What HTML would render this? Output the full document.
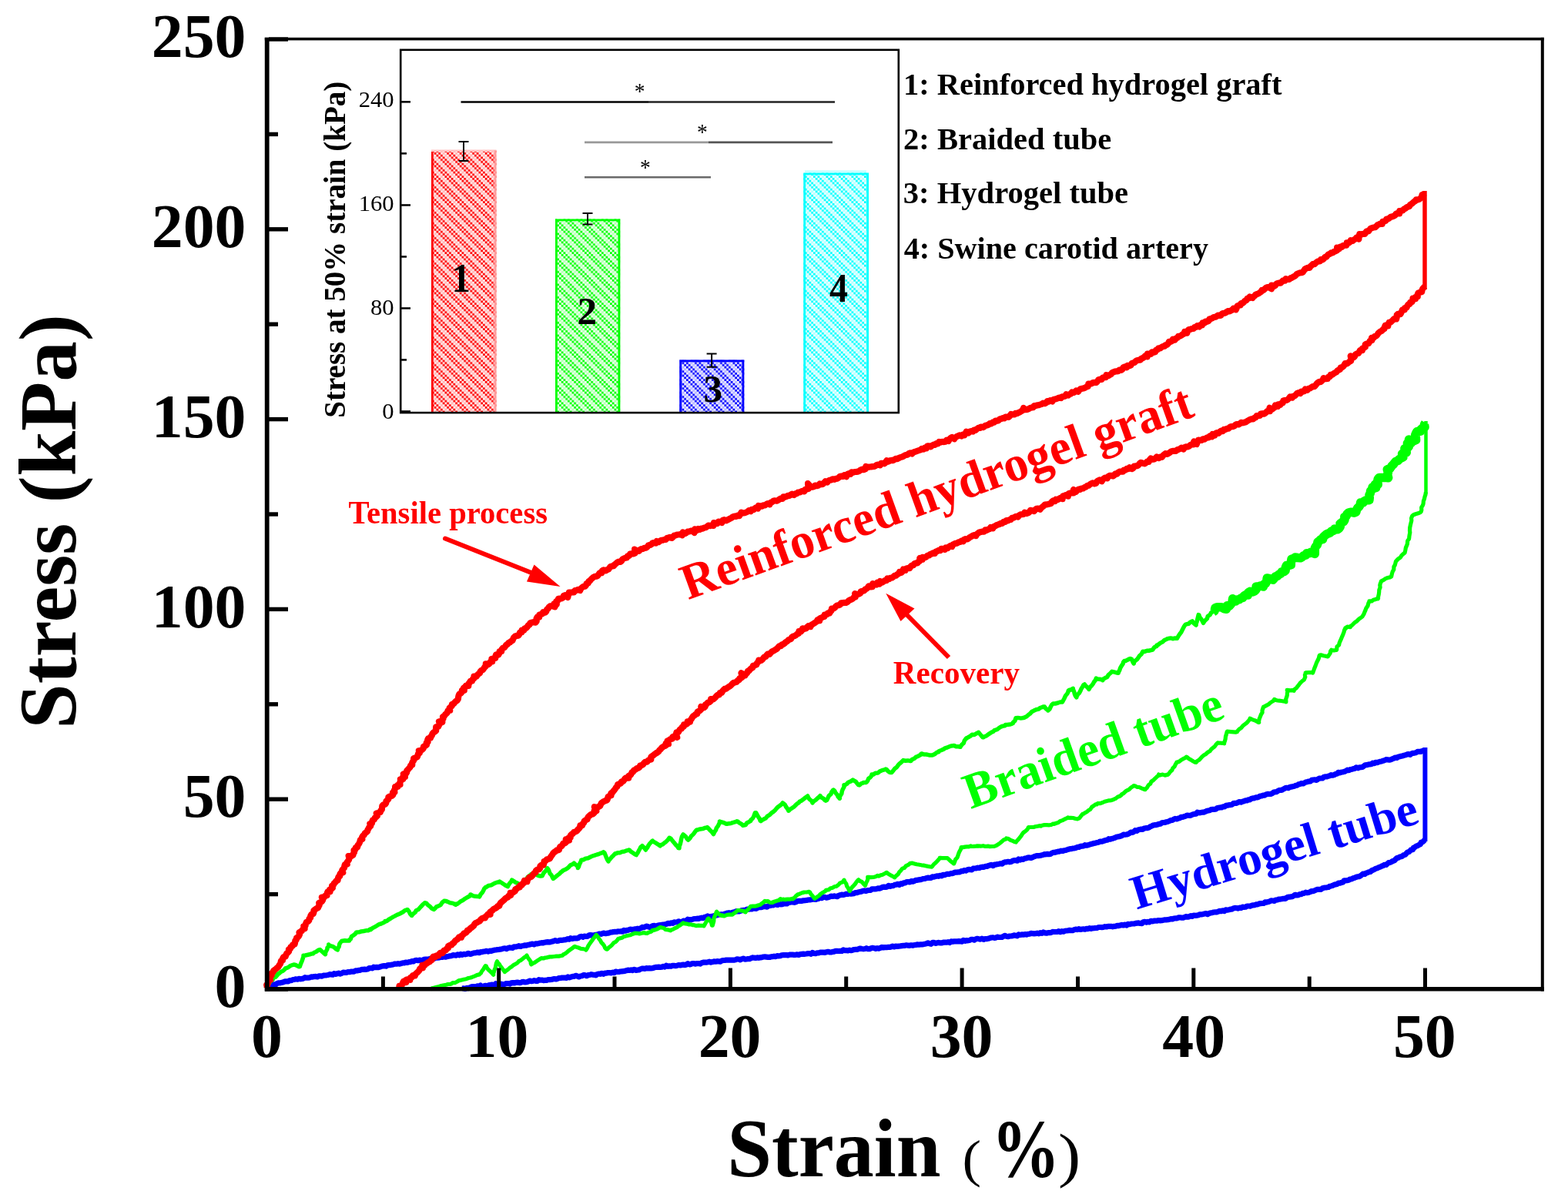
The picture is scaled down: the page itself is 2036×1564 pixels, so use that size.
<!DOCTYPE html>
<html><head><meta charset="utf-8"><title>Stress-strain</title>
<style>
html,body{margin:0;padding:0;background:#fff;width:2036px;height:1564px;overflow:hidden;}
svg{display:block;}
text{font-family:"Liberation Serif","Times New Roman",serif;}
</style></head>
<body>
<svg width="2036" height="1564" viewBox="0 0 2036 1564">
<defs><pattern id="hr" patternUnits="userSpaceOnUse" width="16.50" height="16.50"><rect width="16.50" height="16.50" fill="#fff0f0"/><rect x="0.00" y="2.75" width="2.75" height="2.75" fill="#ffb2b2"/><rect x="0.00" y="8.25" width="2.75" height="2.75" fill="#ff0000"/><rect x="0.00" y="13.75" width="2.75" height="2.75" fill="#ff0000"/><rect x="2.75" y="0.00" width="2.75" height="2.75" fill="#ff0000"/><rect x="2.75" y="5.50" width="2.75" height="2.75" fill="#ffb2b2"/><rect x="2.75" y="11.00" width="2.75" height="2.75" fill="#ff0000"/><rect x="5.50" y="2.75" width="2.75" height="2.75" fill="#ff0000"/><rect x="5.50" y="8.25" width="2.75" height="2.75" fill="#ffb2b2"/><rect x="5.50" y="13.75" width="2.75" height="2.75" fill="#ff0000"/><rect x="8.25" y="0.00" width="2.75" height="2.75" fill="#ff0000"/><rect x="8.25" y="5.50" width="2.75" height="2.75" fill="#ff0000"/><rect x="8.25" y="11.00" width="2.75" height="2.75" fill="#ffb2b2"/><rect x="11.00" y="2.75" width="2.75" height="2.75" fill="#ff0000"/><rect x="11.00" y="8.25" width="2.75" height="2.75" fill="#ff0000"/><rect x="11.00" y="13.75" width="2.75" height="2.75" fill="#ffb2b2"/><rect x="13.75" y="0.00" width="2.75" height="2.75" fill="#ffb2b2"/><rect x="13.75" y="5.50" width="2.75" height="2.75" fill="#ff0000"/><rect x="13.75" y="11.00" width="2.75" height="2.75" fill="#ff0000"/></pattern><pattern id="hg" patternUnits="userSpaceOnUse" width="16.50" height="16.50"><rect width="16.50" height="16.50" fill="#f0fff0"/><rect x="0.00" y="2.75" width="2.75" height="2.75" fill="#b2ffb2"/><rect x="0.00" y="8.25" width="2.75" height="2.75" fill="#00ff00"/><rect x="0.00" y="13.75" width="2.75" height="2.75" fill="#00ff00"/><rect x="2.75" y="0.00" width="2.75" height="2.75" fill="#00ff00"/><rect x="2.75" y="5.50" width="2.75" height="2.75" fill="#b2ffb2"/><rect x="2.75" y="11.00" width="2.75" height="2.75" fill="#00ff00"/><rect x="5.50" y="2.75" width="2.75" height="2.75" fill="#00ff00"/><rect x="5.50" y="8.25" width="2.75" height="2.75" fill="#b2ffb2"/><rect x="5.50" y="13.75" width="2.75" height="2.75" fill="#00ff00"/><rect x="8.25" y="0.00" width="2.75" height="2.75" fill="#00ff00"/><rect x="8.25" y="5.50" width="2.75" height="2.75" fill="#00ff00"/><rect x="8.25" y="11.00" width="2.75" height="2.75" fill="#b2ffb2"/><rect x="11.00" y="2.75" width="2.75" height="2.75" fill="#00ff00"/><rect x="11.00" y="8.25" width="2.75" height="2.75" fill="#00ff00"/><rect x="11.00" y="13.75" width="2.75" height="2.75" fill="#b2ffb2"/><rect x="13.75" y="0.00" width="2.75" height="2.75" fill="#b2ffb2"/><rect x="13.75" y="5.50" width="2.75" height="2.75" fill="#00ff00"/><rect x="13.75" y="11.00" width="2.75" height="2.75" fill="#00ff00"/></pattern><pattern id="hb" patternUnits="userSpaceOnUse" width="16.50" height="16.50"><rect width="16.50" height="16.50" fill="#f0f0ff"/><rect x="0.00" y="2.75" width="2.75" height="2.75" fill="#b2b2ff"/><rect x="0.00" y="8.25" width="2.75" height="2.75" fill="#0000ff"/><rect x="0.00" y="13.75" width="2.75" height="2.75" fill="#0000ff"/><rect x="2.75" y="0.00" width="2.75" height="2.75" fill="#0000ff"/><rect x="2.75" y="5.50" width="2.75" height="2.75" fill="#b2b2ff"/><rect x="2.75" y="11.00" width="2.75" height="2.75" fill="#0000ff"/><rect x="5.50" y="2.75" width="2.75" height="2.75" fill="#0000ff"/><rect x="5.50" y="8.25" width="2.75" height="2.75" fill="#b2b2ff"/><rect x="5.50" y="13.75" width="2.75" height="2.75" fill="#0000ff"/><rect x="8.25" y="0.00" width="2.75" height="2.75" fill="#0000ff"/><rect x="8.25" y="5.50" width="2.75" height="2.75" fill="#0000ff"/><rect x="8.25" y="11.00" width="2.75" height="2.75" fill="#b2b2ff"/><rect x="11.00" y="2.75" width="2.75" height="2.75" fill="#0000ff"/><rect x="11.00" y="8.25" width="2.75" height="2.75" fill="#0000ff"/><rect x="11.00" y="13.75" width="2.75" height="2.75" fill="#b2b2ff"/><rect x="13.75" y="0.00" width="2.75" height="2.75" fill="#b2b2ff"/><rect x="13.75" y="5.50" width="2.75" height="2.75" fill="#0000ff"/><rect x="13.75" y="11.00" width="2.75" height="2.75" fill="#0000ff"/></pattern><pattern id="hc" patternUnits="userSpaceOnUse" width="16.50" height="16.50"><rect width="16.50" height="16.50" fill="#f0ffff"/><rect x="0.00" y="2.75" width="2.75" height="2.75" fill="#b2ffff"/><rect x="0.00" y="8.25" width="2.75" height="2.75" fill="#00ffff"/><rect x="0.00" y="13.75" width="2.75" height="2.75" fill="#00ffff"/><rect x="2.75" y="0.00" width="2.75" height="2.75" fill="#00ffff"/><rect x="2.75" y="5.50" width="2.75" height="2.75" fill="#b2ffff"/><rect x="2.75" y="11.00" width="2.75" height="2.75" fill="#00ffff"/><rect x="5.50" y="2.75" width="2.75" height="2.75" fill="#00ffff"/><rect x="5.50" y="8.25" width="2.75" height="2.75" fill="#b2ffff"/><rect x="5.50" y="13.75" width="2.75" height="2.75" fill="#00ffff"/><rect x="8.25" y="0.00" width="2.75" height="2.75" fill="#00ffff"/><rect x="8.25" y="5.50" width="2.75" height="2.75" fill="#00ffff"/><rect x="8.25" y="11.00" width="2.75" height="2.75" fill="#b2ffff"/><rect x="11.00" y="2.75" width="2.75" height="2.75" fill="#00ffff"/><rect x="11.00" y="8.25" width="2.75" height="2.75" fill="#00ffff"/><rect x="11.00" y="13.75" width="2.75" height="2.75" fill="#b2ffff"/><rect x="13.75" y="0.00" width="2.75" height="2.75" fill="#b2ffff"/><rect x="13.75" y="5.50" width="2.75" height="2.75" fill="#00ffff"/><rect x="13.75" y="11.00" width="2.75" height="2.75" fill="#00ffff"/></pattern></defs>
<rect width="2036" height="1564" fill="#fff"/>
<path d="M347.0 1285.0L348.3 1283.3L349.6 1281.8L351.0 1280.6L352.7 1280.0L354.4 1279.0L356.3 1278.8L358.4 1278.7L360.0 1277.4L362.0 1276.8L364.1 1276.8L366.2 1276.3L368.2 1275.7L370.2 1274.9L372.3 1274.9L374.4 1274.8L376.3 1273.5L378.4 1273.6L380.3 1272.5L382.3 1272.4L384.2 1271.8L386.3 1272.2L388.2 1271.4L390.3 1271.8L392.3 1271.4L394.2 1270.9L396.0 1269.6L398.2 1270.2L400.2 1270.1L402.2 1269.9L404.1 1268.9L406.1 1269.1L408.1 1268.6L410.1 1268.4L412.2 1269.0L414.0 1267.9L416.1 1267.9L418.1 1268.1L420.0 1267.1L422.0 1267.0L424.0 1266.8L426.0 1266.5L427.9 1265.7L430.0 1265.9L432.0 1266.2L433.8 1264.6L436.0 1265.4L437.9 1264.8L439.8 1264.2L442.0 1265.1L443.9 1264.2L445.7 1263.1L447.8 1263.3L449.8 1263.3L451.7 1262.6L453.8 1262.7L455.7 1262.1L457.7 1262.1L459.8 1262.1L461.6 1260.9L463.6 1261.0L465.6 1260.3L467.6 1260.3L469.5 1259.4L471.5 1259.3L473.5 1259.1L475.5 1259.3L477.5 1259.0L479.3 1257.6L481.3 1257.5L483.4 1257.8L485.2 1256.2L487.3 1256.6L489.3 1256.4L491.4 1256.6L493.3 1256.0L495.2 1255.3L497.2 1254.9L499.1 1254.6L501.2 1255.1L503.1 1253.9L505.1 1253.6L507.1 1253.6L509.0 1253.1L511.0 1252.7L512.9 1252.0L515.0 1252.2L516.9 1251.7L519.0 1252.1L521.0 1251.5L522.9 1250.9L524.9 1250.9L526.8 1250.1L528.9 1250.5L530.8 1249.7L532.8 1249.6L534.7 1248.5L536.8 1248.9L538.6 1247.7L540.6 1247.3L542.7 1247.7L544.6 1247.2L546.7 1247.3L548.8 1248.0L550.5 1246.3L552.5 1246.1L554.6 1246.2L556.6 1246.0L558.5 1245.4L560.5 1245.1L562.5 1245.3L564.5 1244.9L566.4 1243.9L568.4 1244.1L570.4 1243.9L572.4 1243.1L574.4 1243.5L576.3 1242.7L578.4 1243.2L580.4 1242.6L582.4 1242.3L584.3 1241.8L586.3 1241.7L588.2 1240.6L590.2 1240.8L592.3 1241.2L594.1 1239.8L596.3 1240.9L598.1 1239.5L600.3 1240.3L602.2 1239.4L604.2 1239.8L606.2 1239.3L608.1 1238.3L610.2 1239.3L612.2 1239.1L614.1 1238.2L616.1 1237.8L618.1 1237.6L620.0 1237.0L622.1 1237.7L624.0 1236.7L626.0 1236.6L628.0 1236.0L630.0 1235.8L631.9 1235.3L634.1 1236.1L636.0 1235.2L638.0 1235.4L639.9 1234.7L641.9 1234.1L643.9 1234.0L645.8 1233.6L647.9 1233.5L649.8 1233.1L651.8 1232.8L653.7 1232.0L655.7 1231.9L657.9 1232.7L659.7 1231.4L661.6 1230.9L663.7 1231.2L665.8 1231.3L667.5 1229.8L669.6 1230.0L671.6 1229.5L673.5 1228.7L675.6 1229.5L677.5 1228.8L679.5 1228.5L681.4 1227.9L683.5 1228.1L685.4 1227.4L687.4 1227.2L689.3 1226.5L691.3 1226.1L693.5 1227.0L695.3 1225.9L697.3 1225.9L699.3 1225.5L701.3 1225.0L703.2 1224.7L705.3 1224.9L707.2 1224.2L709.2 1223.9L711.2 1223.7L713.3 1223.9L715.2 1223.4L717.2 1223.0L719.1 1222.3L721.0 1221.6L723.1 1222.3L725.1 1222.1L727.0 1221.3L729.1 1221.3L731.1 1221.1L733.0 1220.8L735.0 1220.6L736.9 1219.6L739.0 1220.2L740.8 1218.7L742.9 1219.4L744.9 1218.9L746.9 1218.8L749.0 1218.9L750.9 1218.4L752.7 1217.0L754.7 1216.4L756.8 1217.3L758.7 1216.2L760.7 1216.3L762.8 1216.4L764.6 1215.0L766.5 1214.5L768.7 1215.2L770.6 1214.9L772.6 1214.4L774.6 1214.3L776.5 1213.6L778.4 1213.0L780.5 1213.3L782.4 1212.6L784.4 1212.1L786.5 1212.7L788.5 1212.2L790.5 1212.1L792.4 1211.2L794.4 1211.0L796.3 1210.6L798.3 1210.4L800.4 1210.5L802.3 1209.8L804.3 1210.0L806.3 1209.7L808.4 1210.2L810.2 1208.4L812.3 1209.1L814.2 1208.4L816.2 1208.1L818.1 1207.2L820.1 1207.3L822.2 1207.5L824.1 1206.9L826.1 1206.6L828.1 1206.2L830.1 1206.5L832.0 1205.7L833.9 1204.4L835.9 1204.7L837.8 1203.9L839.7 1203.0L841.9 1203.9L844.0 1204.4L845.9 1203.5L847.8 1202.6L849.8 1202.4L851.9 1203.0L853.8 1202.2L855.8 1201.8L857.7 1201.5L859.7 1201.2L861.7 1201.2L863.7 1200.7L865.6 1200.2L867.5 1199.3L869.6 1199.7L871.5 1198.8L873.6 1199.3L875.4 1197.9L877.5 1198.0L879.4 1197.7L881.3 1196.8L883.5 1197.8L885.5 1197.4L887.3 1196.2L889.4 1196.4L891.3 1195.8L893.1 1194.2L895.2 1195.1L897.2 1194.6L899.2 1194.3L901.1 1193.5L903.1 1193.5L905.1 1193.2L907.2 1193.4L909.1 1192.7L911.0 1192.2L913.1 1192.6L914.9 1191.3L916.9 1191.0L918.8 1190.0L921.0 1191.2L922.9 1190.6L924.9 1190.2L926.8 1189.8L928.8 1189.2L930.8 1188.9L932.7 1188.3L934.7 1188.0L936.7 1187.7L938.7 1188.0L940.6 1187.2L942.6 1186.6L944.5 1186.0L946.5 1185.7L948.6 1186.3L950.5 1185.4L952.4 1184.9L954.4 1184.4L956.3 1183.7L958.3 1183.8L960.4 1183.8L962.3 1182.9L964.2 1182.6L966.2 1182.3L968.2 1182.1L970.0 1181.0L972.1 1181.2L974.1 1180.6L976.2 1181.0L978.0 1179.9L980.1 1180.2L982.1 1180.3L984.0 1179.1L985.9 1178.6L987.9 1178.7L989.9 1178.2L991.8 1177.5L993.9 1177.8L996.0 1178.1L997.8 1176.8L999.8 1176.5L1001.7 1175.8L1003.7 1176.0L1005.6 1175.0L1007.6 1174.8L1009.7 1175.5L1011.6 1174.2L1013.7 1174.8L1015.7 1174.7L1017.6 1173.8L1019.6 1173.6L1021.7 1174.0L1023.5 1172.7L1025.5 1172.2L1027.4 1171.6L1029.5 1171.9L1031.5 1172.3L1033.5 1171.8L1035.3 1170.6L1037.3 1170.4L1039.3 1170.3L1041.4 1170.3L1043.3 1169.8L1045.3 1169.7L1047.3 1169.5L1049.3 1169.0L1051.3 1168.8L1053.3 1168.6L1055.2 1168.2L1057.3 1168.2L1059.3 1168.5L1061.2 1167.7L1063.2 1167.2L1065.1 1166.1L1067.2 1166.7L1069.0 1165.4L1071.0 1165.4L1073.1 1166.1L1075.1 1165.7L1077.0 1165.1L1078.9 1164.1L1081.0 1164.4L1083.0 1163.9L1085.0 1164.2L1087.1 1164.6L1089.0 1163.4L1090.9 1162.7L1092.8 1162.2L1094.9 1162.4L1096.8 1162.0L1098.7 1161.2L1100.8 1161.5L1102.7 1160.6L1104.8 1161.2L1106.8 1160.9L1108.8 1160.6L1110.6 1159.5L1112.7 1159.6L1114.6 1158.9L1116.5 1158.5L1118.5 1158.1L1120.4 1157.3L1122.3 1156.9L1124.5 1157.5L1126.4 1156.7L1128.4 1156.5L1130.4 1156.5L1132.1 1154.9L1134.2 1154.9L1136.2 1154.9L1138.2 1154.6L1140.1 1153.9L1142.2 1154.1L1144.1 1153.4L1145.9 1152.3L1147.9 1152.1L1150.0 1152.4L1152.0 1151.9L1153.7 1150.4L1156.0 1151.4L1157.9 1150.7L1159.9 1150.6L1161.7 1149.4L1163.7 1149.1L1165.6 1148.3L1167.9 1149.5L1169.6 1147.9L1171.7 1148.3L1173.4 1146.9L1175.5 1146.8L1177.3 1145.6L1179.4 1145.7L1181.4 1145.9L1183.2 1144.5L1185.4 1145.2L1187.3 1144.4L1189.1 1143.4L1191.1 1143.3L1193.1 1142.9L1195.1 1142.7L1197.0 1142.1L1198.9 1141.5L1201.0 1141.4L1202.9 1140.7L1204.8 1140.1L1206.9 1140.3L1208.9 1140.3L1210.7 1138.9L1212.8 1139.1L1214.7 1138.5L1216.6 1137.9L1218.7 1138.3L1220.6 1137.3L1222.7 1137.8L1224.5 1136.4L1226.5 1136.6L1228.5 1135.9L1230.4 1135.3L1232.4 1135.5L1234.3 1134.7L1236.4 1134.7L1238.3 1134.0L1240.2 1133.1L1242.2 1133.2L1244.2 1132.9L1246.2 1132.9L1248.0 1131.6L1250.1 1131.6L1251.9 1130.5L1254.1 1131.1L1255.9 1130.0L1257.8 1129.3L1259.9 1129.6L1261.9 1129.8L1263.7 1128.2L1265.7 1128.0L1267.7 1127.8L1269.6 1127.2L1271.7 1127.5L1273.6 1126.6L1275.5 1126.2L1277.6 1126.4L1279.5 1125.4L1281.5 1125.5L1283.4 1124.5L1285.3 1124.0L1287.2 1123.3L1289.5 1124.6L1291.3 1123.2L1293.3 1123.1L1295.2 1122.6L1297.2 1122.3L1299.2 1121.8L1301.3 1122.2L1303.0 1120.6L1304.9 1119.9L1306.9 1119.8L1308.9 1119.3L1311.0 1119.8L1313.0 1119.4L1314.8 1118.3L1316.7 1117.7L1318.8 1117.7L1320.9 1118.1L1322.5 1115.9L1324.8 1117.0L1326.6 1115.9L1328.7 1116.4L1330.5 1115.1L1332.5 1115.0L1334.4 1114.1L1336.4 1113.9L1338.6 1114.5L1340.5 1113.9L1342.3 1112.9L1344.2 1112.3L1346.1 1111.5L1348.2 1111.7L1350.2 1111.5L1352.2 1111.0L1354.1 1110.6L1356.0 1109.7L1358.0 1109.8L1360.0 1109.4L1362.1 1109.6L1364.1 1109.4L1365.9 1108.1L1367.8 1107.4L1369.8 1107.3L1371.7 1106.7L1373.7 1106.2L1375.7 1106.1L1377.6 1105.2L1379.7 1105.5L1381.6 1104.8L1383.6 1104.5L1385.5 1103.9L1387.4 1103.2L1389.3 1102.7L1391.3 1102.6L1393.3 1102.0L1395.3 1101.9L1397.2 1101.3L1399.0 1100.3L1401.1 1100.5L1402.9 1099.4L1405.0 1099.2L1406.9 1098.9L1408.7 1097.7L1410.9 1098.2L1412.8 1097.7L1414.7 1097.1L1416.6 1096.5L1418.6 1096.0L1420.5 1095.3L1422.5 1095.1L1424.4 1094.5L1426.4 1094.2L1428.2 1093.1L1430.3 1093.2L1432.2 1092.7L1434.1 1092.0L1436.0 1091.3L1438.0 1091.2L1439.6 1089.7L1441.8 1090.1L1443.7 1089.4L1445.7 1088.9L1447.6 1088.3L1449.4 1087.3L1451.3 1086.9L1453.4 1086.7L1455.3 1086.0L1457.1 1085.3L1458.8 1084.0L1461.0 1084.3L1463.0 1084.0L1464.9 1083.3L1466.7 1082.3L1468.4 1081.0L1470.6 1081.4L1472.4 1080.4L1474.0 1078.7L1476.3 1079.4L1477.9 1078.0L1479.9 1077.5L1481.9 1077.1L1484.1 1077.3L1485.7 1076.0L1487.7 1075.7L1489.9 1075.7L1491.7 1075.1L1493.4 1073.8L1495.3 1073.1L1497.1 1072.1L1499.1 1071.7L1501.2 1071.6L1503.1 1071.0L1505.0 1070.3L1507.0 1070.1L1508.7 1068.8L1510.7 1068.5L1512.7 1068.3L1514.6 1067.7L1516.6 1067.3L1518.4 1066.5L1520.3 1065.6L1522.3 1065.4L1524.1 1064.3L1525.9 1063.4L1528.1 1063.9L1530.0 1063.1L1531.9 1062.7L1533.6 1061.3L1535.7 1061.4L1537.6 1060.7L1539.5 1060.1L1541.3 1059.0L1543.5 1059.3L1545.5 1059.3L1547.4 1058.6L1549.3 1057.7L1551.3 1057.4L1553.3 1057.2L1554.8 1055.2L1557.1 1055.8L1559.1 1055.6L1561.0 1055.2L1563.1 1055.1L1565.0 1054.4L1566.8 1053.5L1568.7 1053.0L1570.7 1052.7L1572.5 1051.6L1574.5 1051.4L1576.6 1051.3L1578.6 1051.2L1580.3 1049.8L1582.3 1049.3L1584.2 1048.9L1586.3 1048.9L1588.1 1047.8L1590.2 1048.0L1591.9 1046.4L1593.9 1046.2L1595.8 1045.7L1597.9 1045.6L1599.8 1045.2L1601.5 1043.6L1603.5 1043.3L1605.6 1043.4L1607.4 1042.4L1609.2 1041.5L1611.4 1042.1L1613.3 1041.3L1615.2 1040.8L1617.0 1039.8L1619.2 1039.9L1620.9 1038.8L1623.0 1038.9L1624.7 1037.4L1626.6 1036.9L1628.7 1036.8L1630.5 1035.9L1632.6 1035.9L1634.5 1035.1L1636.2 1034.1L1638.3 1033.9L1640.1 1033.2L1642.2 1033.1L1643.9 1031.9L1645.9 1031.4L1648.0 1031.5L1650.1 1031.4L1651.9 1030.7L1653.6 1029.3L1655.5 1028.8L1657.6 1028.7L1659.3 1027.4L1661.1 1026.5L1663.2 1026.4L1665.1 1025.9L1666.9 1024.8L1668.7 1023.8L1670.6 1023.3L1672.8 1023.7L1674.6 1022.5L1676.6 1022.1L1678.5 1021.7L1680.5 1021.3L1682.3 1020.3L1684.3 1020.1L1686.0 1018.9L1688.0 1018.5L1689.9 1017.6L1692.1 1018.0L1693.8 1016.9L1695.6 1016.0L1697.6 1015.6L1699.5 1015.1L1701.6 1014.9L1703.2 1013.4L1705.2 1013.0L1707.2 1012.8L1709.5 1013.4L1711.2 1012.2L1713.0 1011.2L1715.0 1011.0L1717.1 1011.0L1718.8 1009.5L1720.7 1008.9L1722.8 1009.0L1724.6 1008.2L1726.6 1007.7L1728.4 1006.6L1730.6 1007.2L1732.5 1006.5L1734.3 1005.5L1736.2 1005.0L1737.8 1003.3L1740.1 1003.9L1741.9 1003.0L1743.9 1002.8L1745.9 1002.3L1747.7 1001.3L1749.5 1000.2L1751.6 1000.6L1753.4 999.6L1755.4 999.2L1757.3 998.6L1759.3 998.2L1761.0 996.8L1763.3 997.8L1765.1 996.8L1767.2 996.7L1769.2 996.5L1770.9 995.2L1772.6 993.8L1774.7 993.7L1776.6 993.1L1778.6 992.8L1780.6 992.6L1782.3 991.2L1784.5 991.7L1786.2 990.3L1788.3 990.6L1790.2 989.9L1792.2 989.3L1794.1 988.9L1796.0 988.2L1797.9 987.6L1799.7 986.7L1801.9 986.9L1804.0 987.2L1806.0 986.7L1807.8 985.9L1809.7 985.2L1811.5 984.1L1813.7 984.5L1815.4 983.3L1817.4 982.8L1819.3 982.2L1821.3 981.9L1823.2 981.2L1825.1 980.8L1827.0 979.9L1829.0 979.7L1831.2 980.4L1832.9 978.9L1834.8 978.3L1836.9 978.1L1838.8 977.7L1840.6 976.4L1842.6 976.3L1844.7 976.4L1846.5 975.6L1848.5 975.0L1850.4 974.5" stroke="#0000ff" stroke-width="7.2" fill="none" stroke-linejoin="round" stroke-linecap="butt"/>
<path d="M1850.4 1091.0L1848.8 1092.2L1847.3 1093.7L1845.2 1094.2L1844.5 1096.6L1842.5 1097.4L1840.9 1098.5L1838.9 1099.2L1837.3 1100.4L1835.4 1101.3L1834.6 1103.6L1832.3 1103.8L1830.9 1105.3L1829.3 1106.6L1827.3 1107.2L1826.0 1108.8L1824.6 1110.3L1822.5 1110.7L1821.0 1112.1L1819.1 1112.8L1817.1 1113.3L1815.4 1114.3L1813.4 1114.8L1812.0 1116.4L1810.5 1117.9L1808.6 1118.5L1806.8 1119.5L1805.1 1120.5L1803.0 1120.7L1801.4 1122.1L1799.8 1123.5L1797.5 1123.3L1795.9 1124.5L1793.9 1125.2L1792.2 1126.1L1790.2 1126.7L1788.5 1127.8L1786.4 1128.2L1784.8 1129.3L1782.9 1130.1L1781.1 1130.9L1779.5 1132.5L1777.4 1132.8L1775.6 1133.6L1773.7 1134.2L1772.1 1135.6L1769.7 1135.1L1768.1 1136.5L1766.4 1137.8L1764.6 1138.7L1762.5 1138.8L1760.6 1139.5L1758.8 1140.4L1756.8 1140.8L1755.1 1141.8L1753.0 1142.0L1751.3 1143.2L1749.3 1143.6L1747.3 1143.8L1745.2 1143.8L1743.8 1145.9L1741.8 1146.4L1740.0 1147.2L1737.9 1147.1L1736.2 1148.5L1734.2 1148.9L1732.3 1149.3L1730.5 1150.3L1728.5 1150.9L1726.6 1151.3L1724.9 1152.5L1722.8 1152.8L1720.8 1153.0L1718.8 1153.3L1716.9 1154.0L1715.2 1155.3L1713.1 1155.3L1711.0 1155.3L1709.1 1155.9L1707.2 1156.7L1705.4 1157.6L1703.2 1157.5L1701.4 1158.5L1699.6 1159.3L1697.6 1159.7L1695.4 1159.2L1693.6 1160.3L1691.5 1160.4L1689.8 1161.6L1687.7 1161.5L1685.9 1162.6L1683.9 1163.0L1681.7 1162.3L1679.9 1163.5L1678.1 1164.6L1676.1 1164.9L1674.2 1165.2L1672.1 1165.3L1670.3 1166.5L1668.5 1167.5L1666.4 1167.3L1664.4 1167.7L1662.5 1168.1L1660.4 1168.0L1658.5 1168.9L1656.5 1169.1L1654.8 1170.4L1652.6 1170.0L1650.5 1169.9L1648.7 1170.9L1646.8 1171.6L1644.8 1172.1L1642.7 1171.8L1641.0 1173.4L1639.0 1173.5L1637.0 1173.6L1635.0 1173.9L1633.1 1174.8L1631.1 1174.9L1629.2 1175.6L1627.2 1175.8L1625.2 1176.3L1623.3 1177.1L1621.3 1177.0L1619.2 1177.0L1617.4 1178.2L1615.4 1178.3L1613.4 1178.2L1611.5 1179.4L1609.5 1179.2L1607.6 1180.1L1605.4 1179.5L1603.4 1179.4L1601.4 1179.9L1599.6 1181.2L1597.6 1181.1L1595.7 1181.8L1593.7 1182.1L1591.6 1181.9L1589.8 1183.5L1587.7 1182.8L1585.8 1183.6L1583.7 1183.3L1581.8 1184.2L1579.9 1184.9L1577.9 1184.8L1575.8 1185.0L1573.9 1185.6L1571.9 1185.8L1570.0 1186.5L1568.1 1187.6L1565.9 1186.6L1564.0 1187.0L1562.0 1187.5L1560.0 1187.9L1558.0 1187.8L1556.1 1188.8L1554.2 1189.2L1552.1 1189.3L1550.1 1189.0L1548.2 1190.4L1546.1 1189.6L1544.2 1190.7L1542.3 1191.2L1540.1 1190.5L1538.2 1191.4L1536.3 1192.2L1534.3 1192.1L1532.2 1191.8L1530.2 1191.9L1528.3 1193.0L1526.3 1192.9L1524.3 1193.0L1522.4 1193.9L1520.3 1193.7L1518.4 1194.2L1516.4 1194.7L1514.4 1194.9L1512.4 1194.9L1510.4 1195.2L1508.5 1195.7L1506.5 1195.9L1504.4 1195.5L1502.5 1196.2L1500.4 1196.1L1498.4 1196.2L1496.5 1196.8L1494.4 1196.3L1492.6 1197.9L1490.5 1197.4L1488.6 1198.2L1486.5 1197.4L1484.5 1197.8L1482.7 1199.6L1480.6 1199.4L1478.6 1198.9L1476.6 1199.1L1474.6 1199.4L1472.6 1200.0L1470.6 1200.0L1468.6 1200.1L1466.6 1200.7L1464.6 1200.4L1462.8 1202.1L1460.6 1201.0L1458.7 1202.0L1456.6 1201.3L1454.7 1202.1L1452.7 1202.6L1450.7 1202.3L1448.7 1203.1L1446.7 1203.3L1444.8 1203.8L1442.7 1203.3L1440.7 1203.3L1438.7 1203.3L1436.7 1204.0L1434.7 1203.7L1432.7 1204.4L1430.7 1204.6L1428.7 1204.5L1426.7 1204.5L1424.8 1205.3L1422.8 1205.5L1420.8 1205.7L1418.7 1205.8L1416.8 1206.4L1414.7 1205.7L1412.8 1206.6L1410.7 1206.4L1408.8 1207.2L1406.8 1206.8L1404.8 1207.0L1402.8 1207.5L1400.7 1206.6L1398.8 1207.6L1396.7 1207.1L1394.8 1207.7L1392.8 1208.6L1390.8 1208.6L1388.8 1208.4L1386.8 1208.8L1384.8 1209.0L1382.8 1209.3L1380.9 1210.2L1378.8 1209.6L1376.9 1210.7L1374.8 1209.7L1372.8 1210.4L1370.8 1210.5L1368.8 1210.5L1366.8 1210.4L1364.9 1211.4L1362.9 1211.7L1360.9 1211.6L1358.9 1212.2L1356.9 1211.9L1354.8 1210.9L1352.9 1212.3L1350.8 1211.7L1348.9 1212.8L1346.8 1212.2L1344.8 1212.7L1342.8 1212.8L1340.8 1212.7L1338.8 1212.3L1336.8 1213.2L1334.8 1213.4L1332.9 1214.1L1330.8 1213.6L1328.9 1214.2L1326.8 1213.9L1324.9 1214.5L1322.8 1213.9L1321.0 1215.8L1318.9 1215.2L1316.8 1214.9L1314.9 1215.6L1312.9 1216.0L1310.9 1216.0L1309.0 1216.7L1306.9 1216.3L1304.8 1215.4L1302.9 1216.2L1301.0 1217.4L1299.0 1217.5L1296.9 1217.5L1294.9 1217.1L1293.0 1218.1L1291.0 1218.3L1288.9 1217.8L1286.9 1218.0L1285.0 1218.7L1283.0 1219.3L1281.0 1219.7L1279.0 1219.5L1277.1 1220.4L1274.9 1219.2L1273.0 1220.1L1271.0 1219.8L1268.9 1219.3L1266.9 1219.9L1265.0 1221.1L1263.0 1220.4L1260.9 1220.4L1259.0 1221.5L1257.0 1221.8L1255.0 1221.6L1253.1 1222.4L1250.9 1221.3L1249.1 1223.2L1247.1 1222.8L1245.0 1222.6L1243.0 1222.8L1241.0 1222.8L1239.0 1222.9L1237.0 1223.3L1235.0 1222.9L1233.1 1224.5L1231.0 1223.7L1229.1 1224.2L1227.0 1224.0L1225.0 1224.2L1223.1 1224.8L1221.1 1224.9L1219.0 1224.4L1217.0 1224.8L1215.1 1225.4L1213.0 1224.4L1211.0 1224.4L1209.1 1226.3L1207.0 1225.7L1205.0 1224.8L1203.0 1225.8L1201.0 1226.2L1199.1 1226.6L1197.1 1226.9L1195.1 1226.9L1193.1 1227.2L1191.0 1226.8L1189.1 1227.5L1187.1 1227.6L1185.1 1228.2L1183.1 1227.8L1181.1 1228.3L1179.1 1228.2L1177.0 1227.8L1175.0 1228.3L1173.0 1228.4L1171.0 1228.6L1169.1 1228.9L1167.1 1229.1L1165.1 1229.4L1163.0 1229.1L1161.1 1230.0L1159.0 1229.1L1157.1 1229.9L1155.1 1230.4L1153.1 1230.4L1151.1 1230.7L1149.1 1230.5L1147.1 1231.0L1145.0 1230.3L1143.1 1231.4L1141.1 1232.2L1139.1 1231.7L1137.1 1232.4L1135.1 1231.7L1133.0 1231.3L1131.0 1231.7L1129.1 1232.7L1127.1 1232.6L1125.0 1231.7L1123.1 1232.5L1121.1 1232.8L1119.0 1232.5L1117.0 1232.0L1115.0 1232.7L1113.1 1233.4L1111.1 1233.4L1109.0 1233.5L1107.1 1234.2L1105.1 1234.6L1103.1 1234.2L1101.1 1234.9L1099.1 1234.6L1097.1 1234.7L1095.0 1233.9L1093.1 1235.5L1091.1 1235.3L1089.1 1235.5L1087.1 1235.4L1085.0 1235.3L1083.1 1236.1L1081.1 1236.4L1079.1 1237.0L1077.1 1236.8L1075.1 1236.3L1073.1 1236.7L1071.1 1237.3L1069.1 1237.2L1067.1 1237.2L1065.1 1237.1L1063.1 1237.8L1061.1 1237.8L1059.1 1238.7L1057.1 1238.5L1055.0 1237.4L1053.2 1239.3L1051.1 1238.6L1049.1 1238.6L1047.1 1239.0L1045.1 1239.3L1043.1 1239.2L1041.1 1239.3L1039.1 1239.5L1037.1 1240.5L1035.1 1239.9L1033.1 1240.3L1031.1 1240.4L1029.1 1240.2L1027.1 1240.2L1025.0 1240.2L1023.1 1241.0L1021.0 1240.5L1019.0 1240.6L1017.0 1240.7L1015.0 1240.8L1013.1 1241.7L1011.1 1241.8L1009.1 1241.6L1007.1 1242.7L1005.1 1242.2L1003.1 1242.7L1001.1 1242.8L999.2 1243.5L997.1 1243.3L995.1 1243.1L993.1 1242.9L991.1 1243.0L989.1 1243.6L987.1 1243.9L985.1 1244.3L983.1 1243.9L981.1 1244.4L979.1 1244.2L977.0 1243.9L975.1 1244.8L973.2 1245.7L971.1 1245.6L969.2 1246.0L967.2 1246.1L965.1 1245.1L963.1 1245.8L961.2 1246.8L959.1 1246.0L957.1 1245.9L955.1 1246.8L953.2 1247.1L951.1 1247.1L949.1 1247.1L947.1 1247.1L945.1 1247.0L943.1 1247.2L941.1 1247.4L939.1 1247.5L937.1 1248.0L935.2 1249.2L933.2 1248.8L931.1 1248.7L929.2 1249.2L927.1 1248.9L925.2 1249.6L923.2 1250.1L921.1 1249.2L919.2 1249.7L917.2 1250.1L915.1 1250.0L913.1 1250.2L911.2 1250.7L909.3 1252.1L907.2 1251.5L905.2 1251.6L903.3 1252.1L901.2 1251.7L899.2 1251.5L897.2 1252.4L895.3 1252.9L893.1 1251.7L891.3 1253.0L889.3 1253.6L887.2 1253.1L885.2 1253.3L883.3 1254.0L881.2 1253.5L879.3 1254.3L877.3 1254.7L875.3 1254.4L873.2 1254.3L871.3 1255.2L869.3 1254.9L867.3 1255.3L865.2 1254.2L863.3 1256.0L861.2 1255.3L859.3 1256.2L857.3 1256.4L855.3 1256.2L853.3 1256.4L851.3 1256.4L849.3 1257.0L847.4 1257.7L845.4 1257.8L843.3 1257.6L841.3 1257.8L839.3 1257.6L837.3 1258.3L835.3 1258.2L833.3 1258.2L831.4 1259.0L829.5 1260.0L827.4 1260.1L825.5 1260.4L823.3 1259.3L821.4 1260.6L819.4 1259.9L817.4 1260.4L815.3 1260.1L813.4 1260.7L811.4 1261.4L809.5 1261.7L807.4 1261.8L805.5 1262.0L803.5 1262.5L801.5 1262.5L799.4 1262.0L797.6 1263.7L795.5 1263.1L793.6 1263.8L791.5 1263.6L789.5 1263.5L787.5 1264.2L785.5 1264.0L783.6 1265.3L781.5 1264.3L779.6 1265.3L777.5 1265.0L775.6 1265.4L773.7 1266.9L771.6 1266.3L769.6 1266.1L767.5 1265.7L765.6 1266.5L763.6 1266.7L761.7 1267.7L759.5 1266.6L757.5 1266.7L755.6 1267.7L753.6 1268.0L751.7 1268.9L749.6 1267.9L747.5 1267.3L745.6 1268.4L743.6 1268.4L741.6 1268.9L739.7 1269.8L737.6 1269.0L735.7 1270.4L733.7 1270.1L731.7 1270.1L729.7 1270.1L727.7 1270.5L725.7 1270.7L723.7 1271.4L721.8 1271.9L719.7 1271.5L717.8 1272.0L715.8 1272.5L713.8 1272.7L711.8 1272.5L709.8 1273.3L707.8 1273.3L705.8 1273.7L703.7 1273.0L701.7 1273.2L699.7 1272.6L697.8 1274.4L695.8 1274.3L693.7 1273.7L691.8 1274.4L689.8 1274.7L687.7 1274.0L685.8 1275.1L683.8 1275.7L681.9 1276.0L679.8 1275.4L677.8 1275.6L675.9 1276.6L673.9 1276.6L671.8 1276.1L669.8 1276.3L667.8 1277.0L665.8 1276.6L663.8 1276.9L661.9 1278.1L659.8 1277.6L657.8 1277.5L655.9 1278.2L653.9 1279.0L651.9 1278.4L649.8 1278.2L647.8 1278.0L646.0 1279.9L643.7 1277.9L641.9 1279.8L639.8 1279.1L637.8 1279.2L635.8 1279.5L633.9 1280.1L631.9 1280.9L629.9 1280.3L627.9 1281.1L626.0 1282.2L623.8 1280.0L621.9 1281.2L619.8 1280.9L618.0 1282.3L615.9 1281.5L613.9 1281.7L611.9 1281.9L610.0 1282.8L608.0 1283.6L606.0 1283.4L604.1 1284.5L602.0 1283.8L600.0 1284.0" stroke="#0000ff" stroke-width="7.2" fill="none" stroke-linejoin="round" stroke-linecap="butt"/>
<path d="M1850.4 971L1850.4 1093" stroke="#0000ff" stroke-width="6" fill="none" stroke-linejoin="round" stroke-linecap="butt"/>
<path d="M347.0 1285.0L347.4 1281.9L347.9 1279.4L348.9 1277.5L349.6 1277.2L351.4 1274.3L354.0 1272.6L355.5 1270.0L357.9 1269.1L360.6 1266.1L360.1 1265.3L362.5 1264.4L364.5 1262.5L367.3 1261.3L370.2 1258.7L370.4 1257.9L372.2 1257.4L374.5 1256.4L377.1 1254.5L379.8 1253.5L381.4 1253.0L383.8 1253.5L386.0 1254.7L388.3 1255.7L389.3 1255.6L389.8 1254.0L391.2 1250.3L392.1 1248.3L393.1 1245.4L394.2 1242.2L394.0 1241.3L396.3 1241.0L398.8 1240.5L402.1 1239.8L404.7 1238.9L406.4 1238.8L407.6 1237.5L410.6 1236.3L413.4 1234.2L415.2 1233.7L415.5 1233.6L417.6 1235.5L420.4 1238.1L422.5 1239.7L422.4 1238.1L423.1 1236.3L424.9 1233.0L425.0 1231.1L427.2 1228.8L426.8 1227.0L427.9 1228.3L432.5 1229.6L434.7 1231.3L436.5 1232.9L438.3 1233.9L438.7 1231.8L440.1 1229.9L440.8 1226.3L442.3 1224.0L443.6 1222.5L444.5 1222.3L447.8 1221.8L450.4 1221.9L453.4 1221.9L452.9 1221.5L455.3 1219.7L456.5 1216.6L458.8 1215.0L461.7 1212.8L462.5 1211.1L463.7 1210.9L466.4 1210.8L469.0 1209.9L472.3 1209.5L475.2 1208.8L478.1 1208.7L480.3 1207.1L481.3 1207.7L483.6 1205.7L486.1 1204.3L489.2 1202.6L491.7 1200.9L494.7 1200.0L498.0 1198.5L500.0 1197.4L500.0 1196.6L502.3 1196.4L504.7 1194.5L507.3 1193.0L509.9 1191.4L512.8 1189.9L515.5 1188.4L518.5 1187.2L520.8 1186.0L523.5 1184.5L525.8 1182.7L529.4 1181.7L529.0 1181.6L531.3 1184.3L532.7 1187.3L534.8 1189.3L534.4 1189.3L536.6 1187.0L539.4 1184.9L540.2 1182.7L543.2 1181.5L545.5 1178.8L547.2 1177.0L549.4 1174.6L551.7 1172.8L551.6 1172.7L553.7 1173.4L555.5 1175.5L557.9 1177.2L560.2 1179.7L562.7 1181.0L563.4 1181.4L565.2 1179.8L566.8 1177.8L570.3 1176.5L572.3 1175.3L574.4 1172.1L576.3 1170.8L576.7 1170.3L579.4 1170.6L582.2 1171.8L584.3 1172.7L588.1 1173.4L591.7 1175.3L591.3 1174.3L593.7 1174.3L596.0 1172.6L598.4 1170.7L601.4 1169.3L603.0 1167.9L606.1 1166.0L609.0 1164.5L611.0 1162.9L611.0 1161.9L614.0 1163.6L616.8 1164.3L620.5 1164.4L622.4 1164.9L623.1 1163.9L624.0 1161.8L626.4 1159.1L627.8 1156.6L628.6 1154.7L630.4 1152.7L631.3 1152.4L634.2 1150.5L637.7 1149.9L639.5 1148.8L642.2 1147.3L645.9 1146.0L647.6 1146.0L648.7 1145.1L650.9 1146.5L653.2 1148.0L656.2 1150.0L659.3 1151.7L659.5 1151.2L660.8 1148.7L662.6 1146.4L664.3 1144.5L664.7 1143.1L667.4 1144.8L669.4 1146.2L671.7 1147.1L674.6 1148.6L676.7 1149.5L677.5 1148.9L679.3 1145.8L681.3 1144.5L683.6 1141.8L685.1 1139.5L687.4 1137.7L690.1 1135.6L689.9 1135.4L693.1 1135.6L696.4 1136.2L699.2 1137.5L701.9 1138.1L704.1 1137.8L704.6 1136.7L706.1 1133.8L708.3 1131.6L710.1 1129.4L710.6 1127.7L711.7 1129.0L713.1 1132.0L713.9 1134.5L716.1 1136.8L717.5 1140.0L718.4 1141.4L718.8 1141.2L721.6 1138.9L724.0 1136.9L726.4 1135.1L728.2 1133.1L730.3 1131.7L730.6 1131.1L733.4 1129.8L736.4 1128.1L738.2 1126.6L740.7 1123.8L743.8 1122.6L745.3 1121.2L745.7 1121.7L748.0 1123.6L750.4 1125.8L750.4 1127.4L751.4 1125.9L752.4 1122.6L753.5 1120.7L754.7 1117.8L754.7 1117.3L758.0 1116.7L760.4 1115.2L763.6 1114.8L766.5 1113.3L768.9 1112.1L772.0 1111.2L775.4 1110.0L777.8 1109.3L780.2 1108.3L783.3 1107.2L783.5 1106.8L785.0 1107.9L786.6 1111.9L787.3 1113.9L788.9 1117.3L790.0 1118.9L790.6 1117.5L792.9 1115.1L794.6 1113.0L796.8 1110.9L798.9 1108.7L800.0 1108.7L802.0 1107.7L804.8 1107.7L807.7 1106.4L810.8 1106.0L813.9 1104.8L816.5 1104.1L817.3 1104.2L819.1 1106.1L822.0 1108.0L824.1 1109.5L826.2 1110.6L825.8 1110.1L827.8 1108.4L829.4 1105.1L830.9 1102.5L831.8 1100.6L833.9 1098.7L834.1 1099.1L836.2 1100.9L838.4 1104.0L838.5 1103.4L840.5 1101.2L841.8 1098.6L843.7 1095.8L846.0 1093.4L847.4 1092.2L847.8 1092.7L850.1 1094.2L852.5 1095.6L855.2 1097.3L857.2 1098.9L857.2 1097.9L860.5 1096.8L862.6 1095.0L864.4 1093.7L867.2 1091.1L868.8 1088.7L869.1 1088.3L870.9 1089.2L873.3 1092.4L875.4 1094.8L877.4 1097.4L879.6 1099.4L880.9 1101.6L882.0 1101.7L882.1 1099.2L883.2 1096.6L884.1 1092.8L884.6 1090.1L885.4 1086.9L886.4 1085.1L887.0 1084.0L888.5 1085.2L890.5 1086.8L892.0 1089.5L893.6 1091.1L894.0 1090.7L896.3 1088.3L897.4 1086.2L900.4 1083.5L901.7 1081.6L903.5 1079.1L904.4 1078.2L906.7 1077.7L909.4 1076.9L912.5 1076.6L915.1 1075.5L918.4 1074.9L918.5 1074.7L920.1 1076.3L922.8 1079.3L924.4 1080.8L926.5 1083.5L926.4 1083.6L927.8 1080.5L929.6 1078.1L930.3 1075.6L932.4 1072.8L933.7 1070.1L935.0 1068.1L934.5 1067.0L937.3 1068.0L940.4 1068.8L942.7 1070.2L944.0 1070.2L945.0 1070.0L949.0 1069.5L951.4 1068.6L954.9 1067.7L956.9 1066.8L958.0 1067.2L959.9 1068.8L962.7 1070.4L964.4 1071.9L964.6 1072.3L968.2 1071.5L969.7 1069.0L972.4 1067.7L974.9 1066.3L974.8 1065.1L977.1 1063.4L978.8 1060.6L979.4 1058.7L980.5 1055.7L981.6 1055.7L983.2 1058.5L984.6 1061.2L986.3 1063.5L987.2 1066.2L987.9 1066.6L989.1 1065.7L991.4 1064.2L994.5 1062.7L996.3 1060.3L999.6 1058.3L1001.2 1056.7L1002.5 1055.4L1003.7 1054.9L1006.3 1052.7L1008.1 1050.3L1009.8 1048.5L1012.6 1046.5L1015.2 1044.5L1016.3 1043.0L1016.6 1043.2L1019.1 1045.1L1020.6 1048.0L1022.0 1049.9L1024.0 1053.1L1024.0 1053.2L1026.5 1050.8L1028.7 1049.6L1031.4 1047.7L1033.5 1045.5L1034.9 1044.1L1037.3 1042.7L1038.1 1041.2L1040.5 1040.2L1043.1 1038.3L1045.1 1036.6L1047.4 1035.1L1048.7 1034.0L1049.4 1035.8L1050.9 1038.1L1053.9 1040.4L1055.0 1042.9L1055.3 1042.3L1057.2 1040.4L1059.4 1038.9L1061.7 1036.7L1064.2 1034.8L1064.9 1033.6L1065.9 1035.5L1069.3 1037.4L1071.0 1039.4L1072.2 1040.1L1073.7 1039.3L1075.1 1036.4L1076.2 1033.9L1079.0 1031.4L1079.7 1029.1L1081.7 1026.2L1082.2 1026.0L1083.8 1027.5L1084.9 1029.9L1087.1 1032.3L1088.2 1034.9L1090.3 1037.2L1089.8 1036.7L1091.0 1033.7L1092.8 1031.0L1093.3 1027.9L1094.2 1025.5L1096.0 1022.2L1096.0 1019.7L1096.5 1020.3L1099.6 1018.3L1101.5 1016.2L1104.8 1014.9L1107.4 1013.1L1107.8 1013.4L1109.0 1014.1L1111.4 1015.5L1113.5 1018.4L1114.6 1019.5L1116.1 1019.9L1118.0 1018.0L1121.4 1016.6L1124.3 1016.4L1125.2 1016.0L1126.6 1014.3L1127.8 1011.3L1130.2 1009.7L1131.7 1007.7L1132.0 1005.9L1133.9 1006.1L1136.7 1004.2L1140.0 1004.0L1142.2 1002.1L1145.3 1000.7L1148.4 999.9L1149.9 999.1L1151.2 999.6L1153.0 1001.8L1155.1 1003.2L1156.8 1003.4L1157.8 1003.4L1160.3 1000.4L1162.0 998.2L1164.5 996.4L1166.5 993.6L1168.6 991.6L1170.7 989.7L1172.8 987.6L1172.9 987.6L1175.6 988.2L1178.9 987.9L1181.3 988.4L1182.7 988.5L1184.1 986.6L1187.0 985.5L1189.2 983.4L1191.7 982.5L1195.0 980.7L1196.1 979.3L1196.5 978.9L1199.7 979.9L1202.8 980.0L1206.6 980.9L1208.9 981.1L1210.6 981.0L1211.2 980.8L1214.3 979.2L1216.9 977.1L1218.9 976.7L1219.1 975.7L1222.3 974.5L1224.9 973.4L1227.2 971.9L1230.3 970.8L1233.0 969.7L1235.0 969.0L1236.7 968.7L1238.9 968.5L1241.5 969.8L1244.1 969.8L1247.0 970.3L1247.2 969.7L1249.2 967.0L1251.2 965.3L1252.3 962.1L1254.5 959.2L1254.5 959.6L1256.7 957.9L1259.4 956.6L1262.1 954.3L1265.2 954.4L1267.5 953.0L1270.1 951.6L1270.6 951.4L1272.4 953.5L1273.9 955.2L1276.0 957.8L1276.7 957.8L1278.4 956.8L1281.1 955.7L1283.4 953.8L1286.9 951.6L1289.2 950.6L1291.0 949.0L1291.2 948.6L1294.7 947.7L1296.7 946.0L1299.3 944.3L1302.1 943.1L1304.8 942.7L1305.4 941.5L1307.6 941.5L1311.3 941.1L1313.2 940.5L1315.2 939.6L1315.4 938.6L1317.9 936.2L1318.6 933.8L1319.0 932.8L1321.8 932.4L1324.9 932.9L1327.0 932.7L1330.3 932.2L1330.6 931.8L1333.0 930.7L1335.2 928.7L1337.5 927.1L1339.7 924.5L1341.1 923.9L1342.2 923.3L1345.4 921.8L1348.6 921.1L1350.1 919.8L1353.5 918.5L1355.2 918.0L1356.3 918.1L1358.1 920.5L1360.7 922.6L1360.9 923.0L1362.8 921.3L1364.3 918.0L1365.8 915.4L1367.4 913.9L1367.6 913.9L1370.2 914.0L1373.9 913.0L1376.7 912.0L1379.3 912.1L1379.8 911.3L1381.3 908.5L1382.0 907.2L1383.5 903.8L1385.7 901.3L1387.1 898.6L1387.2 897.3L1388.1 896.5L1391.2 895.8L1393.3 894.3L1393.2 895.0L1394.8 898.8L1395.4 901.6L1396.4 904.1L1397.8 905.9L1397.8 905.0L1399.5 902.1L1401.3 900.3L1402.9 897.4L1404.0 894.8L1405.7 892.1L1406.9 889.8L1408.2 888.9L1409.4 890.5L1410.9 891.9L1413.5 894.6L1413.9 895.5L1415.5 892.4L1417.8 890.2L1419.4 888.1L1420.6 885.8L1422.6 883.2L1423.3 881.0L1425.0 882.1L1427.8 882.2L1431.7 883.0L1431.8 883.8L1432.5 882.2L1435.2 880.6L1437.7 879.4L1439.4 876.5L1441.8 874.5L1443.8 872.3L1444.6 872.5L1447.3 873.1L1450.0 874.0L1452.2 874.2L1452.3 873.2L1453.7 870.6L1454.7 867.7L1456.3 864.9L1458.1 862.2L1458.7 860.1L1460.0 858.5L1461.5 858.4L1463.9 857.3L1466.9 855.7L1467.6 855.6L1469.5 856.4L1471.1 860.2L1472.2 861.9L1471.8 861.1L1473.9 858.4L1476.5 856.6L1478.6 853.4L1480.0 851.5L1482.2 849.6L1483.4 847.1L1484.0 846.2L1486.3 846.4L1489.4 845.2L1491.7 845.2L1495.5 844.4L1496.7 844.1L1497.2 843.2L1499.2 840.5L1502.0 839.4L1502.1 838.1L1503.5 837.7L1507.1 835.0L1509.4 834.0L1511.7 831.8L1515.2 830.1L1516.4 829.4L1516.8 829.5L1520.1 828.9L1522.7 829.7L1525.8 829.0L1528.5 829.3L1528.6 828.8L1530.1 826.3L1532.4 822.9L1533.6 821.5L1535.1 818.5L1536.6 815.6L1538.1 812.8L1539.0 811.6L1540.2 810.9L1543.5 810.2L1545.2 808.5L1548.1 806.9L1548.1 806.9L1550.1 809.7L1552.2 811.4L1553.1 812.0L1553.0 810.6L1554.1 807.5L1554.8 804.4L1555.6 801.3L1556.2 798.6L1556.9 799.1L1557.8 801.9L1560.0 804.5L1561.5 807.3L1562.5 809.3L1562.8 808.6L1564.5 806.2L1567.5 803.4L1568.2 800.6L1571.0 798.8L1572.5 796.2L1572.6 795.8L1574.3 794.8L1577.7 793.0L1580.0 792.0" stroke="#00ff00" stroke-width="5.5" fill="none" stroke-linejoin="round" stroke-linecap="butt"/>
<path d="M1575.0 795.0L1577.1 793.6L1577.9 789.8L1580.3 788.7L1583.2 788.7L1586.0 788.7L1589.6 790.8L1592.5 791.2L1593.4 786.8L1596.3 787.2L1598.2 785.0L1599.9 782.7L1600.6 777.7L1604.7 781.0L1606.6 779.0L1609.3 778.7L1611.3 777.1L1613.7 776.4L1615.3 774.1L1617.3 772.8L1620.3 773.0L1621.0 769.6L1623.1 768.3L1626.8 769.0L1629.1 767.8L1631.0 766.0L1631.1 761.9L1634.3 761.9L1636.7 761.0L1640.4 762.1L1641.3 758.8L1643.6 757.8L1644.7 754.7L1645.2 750.9L1648.7 751.6L1652.8 753.2L1654.6 751.3L1656.0 748.9L1658.7 748.3L1660.3 746.3L1662.8 745.4L1664.1 742.8L1667.1 742.6L1669.2 741.2L1669.3 737.1L1670.5 734.5L1673.7 734.6L1676.3 733.8L1676.4 729.7L1677.0 726.3L1679.6 725.5L1681.6 724.0L1685.1 724.5L1688.5 724.8L1690.8 723.6L1692.6 721.8L1695.4 721.2L1696.7 718.8L1700.0 718.8L1702.1 717.3L1707.3 719.4L1707.3 715.5L1707.4 711.8L1708.7 709.5L1710.5 707.7L1710.9 704.3L1713.0 702.8L1714.7 700.9L1717.6 700.5L1718.3 697.4L1720.3 695.8L1722.2 694.1L1724.6 693.0L1727.1 692.1L1728.7 690.1L1731.5 689.4L1732.8 687.1L1736.9 687.8L1738.9 686.2L1740.3 683.9L1740.1 680.1L1742.2 678.6L1744.7 677.6L1746.0 675.3L1745.8 671.4L1748.2 670.3L1749.2 667.6L1751.1 666.0L1753.9 665.2L1758.3 666.2L1760.8 665.2L1761.6 662.3L1762.8 659.9L1764.7 658.3L1766.1 656.0L1766.6 652.9L1770.2 653.0L1771.6 650.8L1774.0 649.6L1777.9 649.7L1778.3 646.6L1778.0 642.9L1779.3 640.7L1779.6 637.6L1781.7 636.1L1782.0 633.0L1786.7 633.7L1785.4 629.2L1789.3 629.3L1788.6 625.4L1789.2 622.5L1790.6 620.4L1794.4 620.4L1798.2 620.2L1802.7 620.7L1801.6 616.5L1802.4 613.9L1801.3 609.7L1804.5 609.1L1806.0 607.0L1807.5 604.9L1809.3 603.2L1810.8 601.2L1812.6 599.3L1815.3 598.3L1817.0 596.4L1819.3 595.1L1821.8 593.8L1820.6 589.6L1822.6 588.0L1826.3 587.7L1823.9 582.6L1827.5 582.1L1829.2 580.3L1827.4 575.7L1831.9 576.0L1829.5 571.0L1835.9 572.7L1838.6 571.5L1838.4 568.3L1837.8 564.8L1838.8 562.5L1840.1 560.4L1844.5 560.2L1845.1 557.6L1847.3 556.0L1850.0 554.6L1849.5 551.4L1850.8 549.2" stroke="#00ff00" stroke-width="11.5" fill="none" stroke-linejoin="round" stroke-linecap="butt"/>
<path d="M1851.5 639.3L1850.9 642.8L1850.2 644.6L1849.3 648.6L1848.4 650.8L1848.1 654.4L1847.3 656.6L1845.7 659.1L1845.8 662.8L1845.2 664.6L1844.2 665.6L1841.4 666.8L1838.1 667.8L1835.4 668.8L1834.2 669.8L1833.6 670.4L1832.6 673.2L1832.8 676.4L1832.2 678.6L1831.3 682.5L1830.7 685.4L1830.5 689.3L1830.8 691.7L1830.3 694.2L1829.8 697.5L1829.8 698.4L1829.5 700.1L1827.7 702.5L1827.4 706.5L1826.4 709.1L1825.4 711.4L1824.8 714.7L1824.1 717.9L1823.9 718.2L1821.7 719.9L1819.9 721.6L1818.6 723.8L1815.4 726.2L1813.0 728.6L1812.5 729.2L1812.2 730.3L1811.3 734.0L1809.9 736.2L1809.8 739.8L1808.3 742.3L1807.4 745.4L1806.7 748.6L1806.7 748.9L1804.8 749.9L1802.0 750.5L1799.0 751.7L1796.6 753.4L1793.5 754.8L1793.6 754.9L1792.3 758.0L1791.8 760.2L1792.1 763.1L1790.8 766.4L1790.7 769.0L1790.3 772.0L1789.7 774.6L1789.2 777.8L1789.5 777.3L1785.3 778.8L1783.6 779.0L1781.2 780.8L1777.9 780.9L1777.8 781.9L1776.8 783.8L1776.0 787.0L1773.8 790.3L1773.1 792.4L1771.8 795.4L1770.8 798.0L1770.1 798.9L1769.2 800.7L1766.6 802.7L1764.5 804.2L1762.0 806.7L1759.7 808.2L1757.6 810.2L1755.3 812.5L1754.3 812.9L1753.3 814.6L1749.8 814.1L1746.9 815.8L1747.6 816.2L1745.8 818.0L1745.1 820.8L1743.8 824.4L1742.7 826.8L1741.5 829.9L1740.1 832.9L1739.1 835.2L1738.7 837.7L1736.0 839.9L1735.7 843.7L1735.4 844.4L1733.0 844.8L1729.9 844.8L1728.8 844.2L1727.6 845.9L1727.3 848.4L1725.5 851.1L1724.3 852.8L1724.1 853.0L1721.2 852.3L1718.4 851.7L1715.2 850.8L1713.5 851.0L1713.0 852.1L1712.4 855.0L1711.2 857.5L1709.5 860.9L1708.6 863.4L1707.9 865.2L1706.5 868.7L1705.5 871.7L1704.6 874.1L1704.0 873.7L1701.2 873.7L1698.4 873.6L1695.2 874.0L1695.9 873.8L1694.4 876.7L1694.8 879.5L1693.3 882.9L1692.9 883.4L1691.1 884.5L1688.1 887.4L1686.9 889.1L1684.9 891.6L1683.4 893.7L1680.1 896.1L1680.1 897.3L1678.0 896.7L1675.3 896.8L1671.2 896.4L1672.1 897.5L1671.5 900.1L1671.3 903.3L1670.6 905.7L1669.7 908.1L1669.9 912.0L1669.6 911.5L1666.6 911.0L1663.8 910.5L1660.8 910.2L1657.5 909.7L1654.6 908.5L1654.1 909.8L1652.6 910.9L1649.8 912.6L1647.1 915.0L1644.4 916.4L1642.1 917.6L1640.5 918.2L1640.0 919.9L1639.0 922.9L1639.1 925.6L1637.5 928.0L1636.3 931.1L1635.2 933.8L1634.5 937.2L1634.7 938.5L1633.0 937.8L1629.9 936.0L1627.2 935.1L1624.4 934.0L1623.1 933.2L1622.6 934.7L1620.1 937.7L1618.7 939.1L1615.5 941.5L1613.6 943.1L1611.8 945.4L1609.3 946.9L1606.7 949.7L1606.2 950.8L1604.6 951.1L1601.6 950.8L1598.5 950.6L1595.8 950.4L1593.4 950.2L1593.1 950.9L1592.3 954.1L1591.5 956.6L1591.1 960.1L1590.5 962.4L1589.6 965.0L1589.6 965.8L1586.9 965.3L1583.5 965.0L1580.7 965.4L1581.2 964.9L1579.0 967.1L1577.3 969.6L1574.6 971.7L1572.8 973.2L1570.8 976.0L1570.3 976.0L1567.9 977.5L1565.7 979.6L1563.5 980.8L1560.8 983.0L1559.0 985.1L1556.8 987.3L1554.0 988.9L1553.3 990.3L1551.7 990.2L1549.1 988.8L1546.5 987.1L1543.7 985.7L1541.5 983.6L1540.5 983.2L1539.3 984.4L1536.4 985.7L1533.7 987.2L1530.9 989.4L1527.9 990.2L1528.3 990.0L1526.3 993.0L1525.1 995.8L1523.0 997.6L1521.8 1000.5L1519.7 1002.3L1517.9 1004.7L1516.5 1006.3L1515.5 1006.4L1512.6 1007.1L1509.7 1006.1L1506.1 1007.1L1504.5 1006.1L1504.6 1007.1L1501.6 1009.6L1499.4 1011.7L1497.2 1013.8L1494.9 1015.3L1493.7 1018.2L1491.2 1019.9L1489.3 1023.3L1487.7 1024.5L1487.0 1025.7L1484.3 1024.7L1482.1 1023.9L1479.2 1022.5L1476.3 1022.3L1473.5 1020.8L1472.1 1020.7L1471.3 1021.3L1468.5 1023.2L1466.0 1025.6L1463.9 1026.6L1461.4 1028.1L1458.8 1030.7L1456.4 1031.9L1456.5 1032.4L1453.9 1034.3L1451.2 1035.3L1448.4 1037.5L1447.8 1037.5L1445.5 1038.8L1443.0 1039.6L1440.2 1039.8L1436.5 1040.7L1434.3 1041.3L1431.7 1042.5L1428.6 1043.7L1425.3 1043.6L1424.1 1045.0L1422.7 1044.8L1420.1 1046.8L1417.7 1048.3L1415.7 1051.4L1413.6 1052.5L1411.3 1054.4L1408.6 1055.9L1407.2 1057.2L1405.9 1057.3L1403.6 1060.0L1401.6 1062.8L1399.0 1063.7L1399.3 1063.8L1396.6 1063.5L1393.3 1062.5L1390.6 1062.3L1387.2 1062.1L1386.9 1061.9L1384.5 1063.2L1382.4 1064.2L1379.6 1065.6L1376.3 1066.8L1374.2 1068.5L1370.9 1069.5L1368.8 1070.4L1367.5 1070.0L1365.2 1071.4L1362.6 1071.8L1359.1 1071.6L1356.1 1071.6L1352.9 1072.2L1351.3 1073.2L1350.4 1072.6L1347.4 1073.2L1344.3 1073.8L1342.0 1074.5L1338.3 1074.5L1335.2 1074.8L1335.5 1074.7L1333.9 1077.5L1331.6 1079.6L1328.9 1081.5L1327.4 1083.3L1325.9 1085.8L1323.7 1088.6L1322.3 1090.4L1319.4 1093.3L1319.2 1094.1L1317.2 1093.5L1315.1 1092.4L1311.8 1091.2L1309.5 1089.6L1306.7 1088.9L1305.9 1090.2L1303.6 1090.7L1301.3 1092.7L1298.7 1095.0L1297.0 1096.3L1294.6 1097.8L1292.9 1098.6L1291.1 1099.3L1288.4 1099.5L1285.2 1099.6L1282.9 1099.1L1279.5 1099.5L1276.6 1098.7L1273.3 1099.2L1269.7 1098.9L1267.1 1099.2L1264.0 1099.4L1261.5 1099.5L1260.6 1098.8L1258.1 1099.9L1255.3 1099.8L1253.0 1100.1L1249.2 1100.9L1248.2 1100.6L1247.6 1102.9L1246.1 1105.7L1244.9 1108.3L1244.0 1111.2L1243.1 1113.7L1240.6 1116.5L1239.9 1118.7L1238.6 1121.9L1238.5 1121.9L1236.4 1120.3L1234.1 1118.4L1232.3 1116.6L1230.2 1114.6L1229.3 1114.6L1226.4 1114.7L1223.4 1114.7L1220.3 1114.3L1220.6 1114.5L1218.4 1116.9L1216.6 1118.9L1214.6 1121.1L1212.3 1123.0L1210.5 1125.4L1209.9 1126.1L1208.2 1126.0L1204.9 1125.4L1201.8 1124.7L1199.3 1124.1L1196.5 1123.8L1193.6 1123.3L1193.9 1123.2L1190.4 1122.7L1187.3 1121.9L1184.8 1121.2L1182.1 1121.4L1181.3 1121.7L1179.9 1123.2L1176.3 1124.9L1174.2 1127.6L1172.2 1128.1L1171.4 1128.5L1169.7 1130.8L1167.8 1132.6L1166.5 1135.2L1163.3 1138.0L1161.5 1139.9L1161.7 1139.8L1159.0 1138.3L1155.9 1136.6L1153.9 1135.4L1151.2 1133.4L1151.3 1133.4L1148.8 1134.7L1146.0 1136.2L1143.0 1137.1L1140.9 1138.1L1139.7 1137.3L1137.0 1138.8L1134.1 1139.5L1130.9 1139.6L1128.1 1139.4L1126.7 1139.3L1126.9 1141.5L1126.2 1143.9L1124.4 1147.4L1123.7 1149.8L1123.5 1150.3L1121.7 1148.6L1119.1 1145.5L1116.6 1144.5L1114.8 1142.8L1114.4 1143.1L1112.0 1145.7L1110.6 1148.1L1108.2 1150.8L1106.6 1152.2L1104.5 1155.3L1103.2 1157.6L1102.6 1156.7L1101.6 1154.0L1099.6 1151.1L1098.8 1148.0L1097.2 1145.9L1096.0 1143.1L1095.9 1143.3L1093.9 1145.8L1090.6 1147.1L1089.1 1149.0L1086.2 1151.3L1086.0 1151.2L1083.5 1151.8L1081.0 1153.2L1077.9 1154.1L1076.3 1155.7L1072.4 1156.4L1071.8 1157.5L1070.1 1158.5L1067.3 1160.1L1065.4 1161.4L1063.3 1163.6L1060.6 1165.4L1058.6 1166.6L1057.8 1167.3L1056.3 1165.4L1054.3 1162.9L1052.6 1161.0L1051.7 1159.0L1050.5 1158.4L1047.5 1159.0L1044.2 1159.0L1042.1 1159.7L1042.0 1159.5L1038.3 1161.2L1035.5 1162.0L1035.5 1162.3L1033.5 1163.8L1032.2 1165.5L1029.5 1167.8L1029.1 1167.3L1026.3 1168.1L1022.6 1168.0L1019.8 1168.3L1020.1 1168.7L1017.6 1168.2L1013.7 1168.6L1013.3 1167.6L1011.5 1169.4L1008.9 1170.1L1005.4 1171.3L1002.0 1172.4L1003.2 1172.5L999.7 1172.5L997.2 1170.7L993.9 1170.8L993.1 1170.4L991.1 1172.4L989.3 1173.5L986.8 1175.5L984.7 1175.8L983.1 1176.5L981.1 1177.1L977.4 1177.0L974.5 1177.6L974.7 1177.4L972.5 1180.2L970.4 1182.5L968.1 1184.1L968.0 1184.9L965.2 1183.3L962.6 1182.9L959.2 1182.6L957.7 1182.6L956.7 1183.6L954.8 1185.3L952.0 1187.1L950.9 1188.2L949.3 1188.0L946.3 1188.1L943.6 1188.5L940.4 1190.0L937.9 1188.9L937.6 1189.6L934.8 1188.5L932.3 1186.3L930.5 1184.2L930.3 1184.7L929.2 1187.9L927.9 1190.9L926.9 1193.1L926.8 1196.5L926.1 1199.2L925.3 1202.2L924.4 1202.1L923.8 1198.8L921.8 1195.8L920.7 1193.8L919.9 1192.9L918.9 1193.8L917.6 1196.4L915.7 1199.8L914.8 1201.3L914.0 1202.9L912.8 1202.3L909.7 1202.4L907.0 1202.2L903.8 1202.6L900.4 1201.6L899.2 1201.6L897.5 1200.9L894.9 1201.0L891.9 1200.1L888.5 1199.7L887.0 1198.8L886.1 1199.7L883.4 1201.7L881.2 1202.8L878.9 1204.7L875.6 1206.2L873.1 1207.5L870.6 1208.2L870.5 1208.8L867.5 1207.8L863.9 1207.3L861.9 1205.6L859.1 1204.9L857.3 1204.5L855.9 1205.4L852.8 1207.1L850.6 1207.9L846.9 1208.6L847.2 1208.7L845.4 1210.3L842.1 1211.2L840.2 1212.5L839.3 1212.4L835.9 1211.6L833.3 1212.3L830.4 1212.9L826.9 1212.3L824.4 1212.3L824.5 1212.2L821.8 1213.2L818.1 1214.8L815.4 1215.3L812.4 1216.1L810.5 1216.4L807.5 1218.3L804.7 1218.9L802.7 1219.5L801.5 1221.3L799.7 1223.3L797.4 1224.3L794.8 1227.3L792.9 1229.1L790.8 1230.6L788.4 1233.1L787.2 1232.9L785.7 1231.4L784.6 1228.8L783.0 1226.5L781.1 1224.7L779.4 1221.5L777.5 1219.1L776.3 1216.7L774.3 1214.6L774.2 1214.3L772.3 1217.0L770.6 1218.9L769.2 1221.2L767.1 1223.9L765.2 1226.6L763.8 1228.7L762.6 1231.6L760.9 1234.1L760.8 1233.2L757.3 1232.7L754.3 1232.4L751.0 1231.0L748.4 1230.2L746.2 1229.4L745.5 1229.8L743.5 1231.5L741.1 1233.1L738.4 1235.0L735.9 1237.2L733.7 1238.9L731.4 1239.9L730.3 1241.2L728.7 1241.5L725.6 1242.1L722.3 1242.2L719.5 1242.5L716.3 1242.9L714.0 1242.9L709.9 1243.9L707.6 1244.2L705.5 1245.0L703.2 1244.6L701.5 1245.6L699.3 1246.9L697.1 1248.4L694.0 1250.5L691.7 1251.6L689.8 1252.8L689.2 1251.3L689.1 1249.0L686.7 1245.7L685.1 1243.4L683.9 1241.0L684.0 1241.6L681.6 1243.2L679.3 1244.9L676.7 1247.1L673.7 1248.6L672.0 1250.6L669.3 1252.4L668.6 1252.7L666.4 1253.8L664.3 1255.8L661.8 1257.3L659.6 1259.3L656.7 1261.3L655.3 1262.6L654.9 1261.6L652.7 1258.8L651.2 1256.8L649.3 1254.3L648.2 1252.3L645.2 1249.4L645.6 1248.8L644.4 1251.3L643.9 1253.7L643.4 1256.7L641.9 1260.2L641.2 1263.0L640.0 1265.5L640.7 1266.2L638.9 1264.1L637.1 1262.3L634.3 1259.8L632.4 1257.5L631.3 1255.0L630.3 1254.6L629.1 1256.4L627.6 1259.1L625.4 1262.0L624.4 1264.1L622.7 1265.5L622.4 1265.9L619.2 1266.6L616.7 1267.8L613.4 1269.1L611.1 1270.0L608.3 1270.5L605.4 1271.7L602.4 1272.3L599.5 1273.0L595.5 1273.9L593.9 1275.0L590.6 1276.7L587.9 1276.6L586.2 1278.0L584.5 1278.4L581.8 1278.5L579.3 1279.2L576.7 1279.7L573.0 1280.6L570.0 1281.5L567.9 1282.0L564.1 1283.0L562.2 1283.8L561.4 1283.5L559.0 1285.0" stroke="#00ff00" stroke-width="5.2" fill="none" stroke-linejoin="round" stroke-linecap="butt"/>
<path d="M1851.5 547L1851.5 641" stroke="#00ff00" stroke-width="4.5" fill="none" stroke-linejoin="round" stroke-linecap="butt"/>
<path d="M346.5 1283.5L346.8 1281.5L346.2 1279.3L347.9 1277.6L348.2 1275.7L348.0 1273.5L351.0 1272.7L349.7 1269.9L350.8 1268.2L352.7 1267.0L352.4 1264.3L354.4 1263.2L355.1 1261.2L356.7 1259.8L358.5 1258.5L360.0 1257.1L361.6 1255.8L362.5 1253.9L363.8 1252.4L364.5 1250.5L364.9 1248.3L367.1 1247.3L367.1 1245.0L368.1 1243.3L370.7 1242.6L371.3 1240.6L372.2 1238.7L373.7 1237.4L375.1 1235.9L374.9 1233.2L377.0 1232.3L377.5 1230.2L379.5 1229.2L380.2 1227.2L382.6 1226.5L383.1 1224.4L383.3 1222.1L384.8 1220.7L385.0 1218.5L386.8 1217.3L388.2 1215.7L389.0 1213.9L388.5 1211.2L390.6 1210.2L392.2 1208.8L393.2 1207.1L395.6 1206.3L394.4 1203.0L396.7 1202.2L397.0 1200.0L397.8 1198.1L400.0 1197.1L401.3 1195.6L401.5 1193.4L403.2 1192.0L403.3 1189.8L404.3 1188.0L406.7 1187.2L407.4 1185.2L407.4 1182.8L409.1 1181.5L410.8 1180.2L412.9 1179.3L413.7 1177.4L414.7 1175.7L414.2 1172.9L416.5 1172.0L418.1 1170.7L419.2 1169.0L417.9 1165.6L421.1 1165.5L422.1 1163.7L424.6 1163.0L424.7 1160.7L425.3 1158.6L428.5 1158.4L428.0 1155.6L430.3 1154.7L431.9 1153.4L431.1 1150.5L433.1 1149.4L433.8 1147.4L435.5 1146.1L436.4 1144.4L438.6 1143.4L438.8 1141.1L439.5 1139.2L441.3 1138.0L441.4 1135.7L442.4 1134.0L445.3 1133.4L444.3 1130.4L445.6 1128.8L447.0 1127.3L447.3 1125.2L447.8 1123.1L450.8 1122.6L450.6 1120.2L451.8 1118.5L453.0 1116.9L453.6 1114.9L452.7 1112.0L456.4 1112.0L458.4 1110.8L458.9 1108.8L460.0 1107.1L459.5 1104.4L461.5 1103.3L461.8 1101.2L464.2 1100.3L464.5 1098.1L465.8 1096.5L466.7 1094.8L467.5 1092.9L467.9 1090.8L470.4 1090.0L470.1 1087.4L471.3 1085.8L472.9 1084.5L473.7 1082.6L475.4 1081.3L477.0 1079.9L477.5 1077.9L478.6 1076.2L479.5 1074.4L481.2 1073.1L480.4 1070.2L483.0 1069.5L483.2 1067.2L484.0 1065.4L486.0 1064.3L486.8 1062.4L488.5 1061.2L490.0 1059.7L488.8 1056.5L491.4 1055.9L493.9 1055.1L494.3 1053.0L495.8 1051.6L496.1 1049.4L496.3 1047.0L497.6 1045.5L500.0 1044.8L501.3 1043.2L501.4 1040.8L502.9 1039.4L504.4 1038.0L504.3 1035.5L506.4 1034.5L508.8 1033.8L510.4 1032.4L510.0 1029.7L512.4 1029.0L512.0 1026.3L513.0 1024.5L513.1 1022.2L516.4 1021.9L516.6 1019.7L519.5 1019.2L519.2 1016.6L520.2 1014.9L519.9 1012.3L523.2 1012.0L523.1 1009.5L525.9 1009.0L523.9 1005.4L527.1 1005.0L528.2 1003.3L528.2 1001.0L529.8 999.6L531.1 998.0L532.6 996.6L533.1 994.6L535.3 993.6L535.1 991.1L536.0 989.3L537.3 987.7L537.1 985.1L539.4 984.3L541.7 983.5L542.4 981.5L542.9 979.4L544.8 978.3L543.9 975.2L546.8 974.8L548.5 973.5L549.8 972.0L550.0 969.7L552.2 968.8L554.0 967.6L553.7 964.9L555.6 963.8L555.2 961.1L556.0 959.3L558.9 958.8L559.6 956.8L560.8 955.2L561.4 953.2L562.7 951.7L564.5 950.5L566.2 949.2L566.0 946.7L566.2 944.4L569.2 944.0L569.9 942.0L571.1 940.4L570.0 937.3L574.4 937.8L574.0 935.2L575.5 933.7L575.0 931.0L577.0 929.9L578.1 928.2L579.6 926.9L581.0 925.4L581.5 923.2L584.2 922.7L583.6 919.8L585.1 918.4L586.7 917.1L586.9 914.8L589.3 914.0L590.5 912.4L591.9 911.0L593.7 909.8L594.8 908.1L595.1 905.9L595.5 903.7L596.3 901.7L598.2 900.7L599.6 899.2L599.9 896.9L602.8 896.7L602.1 893.5L604.2 892.6L605.0 890.7L608.3 890.8L608.4 888.3L609.7 886.8L610.7 884.9L613.2 884.5L613.8 882.3L615.5 881.2L615.5 878.5L618.8 878.7L619.7 876.9L621.2 875.5L623.0 874.5L623.6 872.3L625.0 870.9L627.0 870.0L628.2 868.4L629.3 866.6L630.9 865.4L630.8 862.4L634.1 863.0L635.7 861.7L636.6 859.8L639.1 859.4L638.5 856.0L640.7 855.4L643.2 855.0L643.4 852.4L644.2 850.3L647.3 850.6L648.2 848.7L648.6 846.3L651.2 846.0L651.6 843.5L652.8 841.9L654.9 841.2L656.1 839.6L657.2 837.9L659.1 836.9L660.2 835.1L662.2 834.4L663.6 832.9L665.5 832.0L666.3 829.9L667.3 828.0L668.7 826.7L670.8 825.9L673.2 825.6L674.3 823.9L675.0 821.6L677.4 821.2L677.7 818.6L680.4 818.6L681.1 816.4L683.2 815.8L684.6 814.4L685.7 812.5L687.5 811.6L688.3 809.4L690.3 808.7L692.5 808.1L695.5 808.7L696.7 807.0L696.6 803.6L697.5 801.7L700.1 801.7L700.3 798.7L702.3 798.0L704.4 797.4L705.2 795.2L708.1 795.6L709.4 794.1L710.1 791.8L711.7 790.5L712.8 788.7L714.2 787.3L716.7 787.0L720.6 788.3L719.7 784.3L722.8 784.8L722.3 781.0L724.3 780.3L724.9 777.9L727.2 777.6L729.5 777.4L731.0 776.2L731.9 774.0L733.7 773.1L737.3 775.9L738.0 772.9L738.8 769.7L741.0 769.7L743.1 769.4L745.3 769.4L746.5 767.1L748.6 766.8L750.4 765.9L753.2 767.0L754.2 764.7L755.7 763.3L757.2 762.1L759.5 761.8L760.9 760.4L761.6 758.0L763.8 757.5L764.5 755.2L766.3 754.2L767.5 752.5L769.0 751.2L770.5 749.8L772.4 748.8L774.7 748.6L776.4 747.6L777.6 745.8L778.9 744.1L781.3 744.1L782.0 741.4L783.8 740.4L786.6 741.3L788.3 740.2L790.2 739.5L791.4 737.6L792.8 735.9L794.8 735.4L797.0 735.1L798.1 733.2L799.8 732.2L801.3 730.6L803.1 729.7L805.6 730.0L807.1 728.7L808.2 726.5L809.9 725.5L811.8 724.8L814.0 724.5L815.0 722.3L817.1 721.9L818.1 719.6L820.2 719.2L822.6 719.3L824.5 718.7L824.1 713.7L827.4 715.6L829.7 715.8L831.1 714.1L832.8 713.1L835.0 712.9L836.7 711.8L838.8 711.6L840.5 710.5L841.8 708.6L843.8 708.1L845.7 707.3L847.1 705.5L849.0 705.0L851.5 705.6L852.6 703.0L855.2 704.1L856.8 702.9L858.6 701.9L860.6 701.7L862.5 701.0L864.6 700.9L866.0 699.0L868.0 698.5L869.9 697.9L872.3 698.9L874.0 697.6L875.4 695.5L877.5 695.4L879.3 694.5L881.4 694.5L883.4 694.1L885.8 695.2L886.8 691.4L889.4 693.1L891.2 692.1L892.9 690.7L894.9 690.5L896.8 689.7L898.8 689.6L901.6 692.0L902.3 687.3L904.9 688.9L906.5 687.0L908.8 687.9L910.5 686.5L912.6 686.6L914.4 685.5L916.4 685.2L918.1 683.9L919.7 682.6L922.0 683.1L923.9 682.5L926.2 682.9L927.0 679.1L929.4 679.8L931.6 680.1L932.9 677.7L935.0 677.8L937.5 678.9L938.5 675.7L940.5 675.2L943.0 676.3L944.8 675.4L946.6 674.4L948.4 673.4L950.2 672.6L951.8 671.1L953.7 670.6L956.0 670.8L957.7 669.7L960.0 670.2L961.3 667.9L962.5 665.6L965.0 666.5L967.1 666.2L969.0 665.5L970.7 664.6L972.4 663.2L974.9 664.2L976.1 661.9L978.4 662.2L980.0 660.7L981.6 659.3L984.2 660.5L985.0 656.9L987.3 657.4L989.6 657.6L991.2 656.3L993.4 656.4L995.0 655.1L996.8 654.1L999.4 655.3L1000.6 652.9L1002.5 652.2L1004.1 650.8L1006.1 650.3L1008.4 650.7L1010.2 649.9L1011.9 648.8L1013.6 647.5L1015.9 647.9L1017.1 645.4L1019.3 645.7L1021.2 645.0L1022.9 643.9L1025.1 643.9L1026.7 642.6L1028.5 641.7L1031.2 643.0L1032.7 641.4L1034.7 641.1L1036.3 639.5L1038.4 639.5L1040.2 638.6L1042.0 637.8L1044.4 638.4L1045.6 635.7L1047.6 635.4L1049.6 635.0L1049.1 628.2L1052.7 632.0L1055.1 632.7L1057.0 632.1L1058.6 630.5L1060.9 631.1L1062.9 630.5L1064.3 628.5L1066.6 629.2L1068.6 628.7L1070.1 627.1L1071.6 625.3L1074.2 626.5L1075.6 624.6L1077.4 623.7L1079.5 623.4L1081.2 622.3L1083.5 622.8L1085.3 621.9L1087.3 621.6L1089.0 620.5L1090.6 618.8L1092.6 618.6L1094.8 618.8L1096.4 617.2L1099.1 619.1L1100.2 616.0L1102.0 615.2L1104.4 615.9L1105.7 613.3L1107.9 613.7L1109.8 613.0L1111.8 612.9L1113.8 612.6L1115.7 611.9L1117.4 610.5L1119.2 609.7L1121.5 610.2L1123.4 609.5L1124.4 606.0L1126.8 607.1L1128.8 606.5L1130.8 606.4L1132.8 606.1L1134.9 606.0L1136.7 605.2L1138.5 604.0L1140.4 603.5L1142.8 604.3L1144.1 601.8L1146.2 601.9L1148.4 602.3L1150.1 600.7L1151.4 598.3L1153.9 599.5L1155.6 598.3L1157.6 597.9L1159.7 598.1L1161.5 597.0L1163.2 595.8L1165.4 596.1L1167.2 595.0L1169.0 594.1L1170.9 593.6L1172.8 592.9L1174.5 591.8L1176.3 591.0L1178.4 590.6L1180.0 589.2L1181.7 588.3L1184.3 589.5L1185.8 587.6L1187.7 587.0L1189.6 586.3L1191.5 585.7L1193.4 585.0L1195.3 584.3L1196.9 582.9L1199.3 583.6L1200.7 581.7L1203.0 582.3L1204.1 579.4L1206.3 579.4L1208.7 580.3L1210.3 578.8L1212.1 577.7L1214.2 577.9L1215.8 576.1L1217.9 576.3L1219.3 574.0L1221.6 574.6L1223.4 573.8L1225.7 574.1L1227.6 573.7L1229.1 571.7L1231.6 572.9L1232.9 570.6L1234.4 568.8L1236.2 567.9L1239.2 570.2L1240.6 568.2L1242.3 567.1L1244.1 566.3L1245.9 565.4L1248.5 566.5L1249.9 564.7L1252.4 565.3L1253.6 563.1L1254.8 560.7L1257.7 562.4L1259.2 560.7L1261.0 560.1L1263.4 560.6L1264.7 558.5L1267.0 558.8L1268.5 557.2L1270.2 555.9L1272.4 556.0L1273.9 554.5L1276.3 555.1L1278.1 554.1L1279.7 552.7L1281.7 552.4L1283.6 551.6L1285.2 550.2L1287.4 550.3L1288.9 548.7L1291.0 548.6L1292.4 546.7L1294.6 546.7L1296.5 546.2L1298.0 544.6L1300.0 544.1L1301.8 543.2L1304.1 543.4L1305.5 541.6L1307.7 541.7L1309.9 541.8L1311.4 540.2L1312.7 538.0L1315.0 538.5L1317.2 538.5L1318.7 536.8L1320.9 537.1L1322.7 536.0L1324.5 535.2L1326.2 534.0L1328.0 533.1L1329.0 530.0L1331.9 532.2L1333.9 531.9L1335.8 531.2L1337.5 530.0L1339.5 529.6L1341.5 529.2L1342.9 527.0L1345.0 527.0L1346.9 526.4L1348.9 526.2L1350.8 525.5L1352.7 524.8L1354.4 523.7L1356.7 524.2L1358.5 523.2L1359.9 521.1L1362.2 521.6L1363.8 520.1L1366.4 521.5L1367.7 519.2L1369.6 518.5L1371.6 518.2L1373.4 517.3L1375.3 516.6L1377.7 517.1L1379.1 515.4L1381.2 515.2L1383.1 514.6L1384.4 512.3L1387.1 513.6L1388.6 512.1L1390.6 511.5L1391.9 509.4L1394.2 509.9L1396.0 508.9L1397.5 507.4L1400.2 508.7L1401.5 506.6L1403.1 505.2L1405.1 504.7L1407.1 504.4L1409.0 503.7L1410.7 502.5L1412.7 502.1L1413.3 498.7L1415.4 498.6L1417.5 498.2L1419.1 497.0L1421.3 496.8L1423.6 496.9L1425.1 495.4L1426.2 493.3L1428.3 492.9L1430.5 492.9L1431.7 490.8L1433.7 490.2L1435.9 490.1L1436.6 487.2L1439.3 488.1L1441.0 486.9L1442.8 486.1L1444.1 484.1L1445.9 483.4L1447.8 482.6L1449.9 482.3L1452.1 482.1L1453.5 480.5L1455.8 480.8L1457.5 479.6L1458.6 477.2L1460.4 476.4L1463.0 477.3L1464.1 474.9L1466.5 475.3L1468.4 474.5L1469.5 472.1L1471.4 471.4L1473.3 470.8L1474.7 469.2L1476.5 468.2L1478.5 467.7L1480.7 467.7L1482.0 465.9L1483.9 465.1L1485.5 464.0L1487.0 462.4L1489.8 463.4L1490.0 459.7L1492.4 459.9L1494.6 459.8L1495.6 457.4L1498.1 457.7L1500.1 457.1L1500.9 454.7L1503.1 454.3L1504.2 452.4L1506.6 452.4L1508.1 451.1L1509.9 450.1L1512.1 449.8L1513.4 448.2L1515.5 447.7L1516.9 446.2L1517.8 443.9L1520.2 443.8L1522.0 442.9L1522.9 440.6L1525.7 441.5L1527.0 439.6L1528.8 438.8L1530.0 436.9L1532.2 436.6L1534.0 435.7L1535.5 434.3L1537.4 433.6L1538.2 431.0L1541.4 432.5L1542.1 429.7L1543.5 428.0L1545.7 427.9L1547.5 427.0L1549.8 427.0L1551.0 425.0L1553.2 424.9L1554.5 423.1L1557.4 424.4L1558.6 422.2L1560.9 422.3L1561.6 419.3L1564.0 419.6L1565.2 417.6L1567.5 417.8L1569.4 417.0L1570.4 414.5L1572.4 414.0L1574.2 413.2L1576.0 412.1L1578.0 411.8L1579.8 410.8L1581.5 409.6L1583.8 409.9L1585.8 409.4L1587.0 407.2L1589.0 406.9L1591.0 406.4L1592.7 405.4L1594.4 404.2L1596.7 404.3L1598.5 403.4L1600.2 402.4L1601.6 400.8L1604.8 402.3L1605.8 400.1L1606.6 397.5L1608.4 396.7L1610.7 396.5L1611.5 394.0L1613.7 393.7L1615.2 392.4L1616.6 390.7L1618.5 389.9L1619.5 387.9L1621.7 387.5L1622.7 385.4L1626.3 387.1L1627.6 385.5L1629.2 384.3L1630.5 382.6L1632.4 382.0L1634.3 381.2L1635.9 380.0L1637.6 379.0L1638.6 376.8L1640.9 376.8L1642.4 375.2L1643.9 373.9L1645.8 373.1L1648.1 373.4L1651.1 375.2L1651.2 370.5L1654.1 372.0L1655.8 371.0L1657.1 368.9L1658.9 368.0L1660.9 367.6L1663.1 367.6L1664.5 365.8L1666.1 364.4L1668.5 364.7L1669.5 362.1L1672.0 362.9L1674.2 362.8L1675.7 361.3L1677.7 360.7L1679.3 359.6L1681.2 358.8L1682.7 357.4L1684.1 355.8L1686.0 355.2L1687.8 354.3L1690.1 354.2L1691.9 353.4L1693.1 351.5L1694.4 349.6L1696.1 348.6L1698.0 347.9L1700.4 347.9L1701.6 346.1L1703.1 344.7L1704.5 343.2L1706.9 343.2L1708.3 341.7L1709.9 340.4L1711.7 339.4L1714.0 339.4L1715.0 337.1L1717.4 337.3L1719.0 336.0L1720.2 334.1L1722.2 333.7L1723.5 332.0L1725.0 330.4L1726.9 329.8L1728.4 328.3L1730.7 328.3L1732.2 326.9L1734.1 326.3L1736.0 325.4L1736.1 321.7L1739.2 323.0L1740.1 320.5L1742.6 320.8L1743.9 319.1L1746.0 318.7L1748.2 318.6L1748.7 315.4L1751.2 315.7L1752.8 314.5L1753.7 312.2L1756.5 312.9L1758.0 311.4L1759.8 310.6L1761.1 308.8L1764.4 310.5L1764.6 307.0L1765.3 304.1L1767.8 304.5L1769.8 303.9L1772.2 304.0L1773.3 302.0L1774.6 300.3L1777.0 300.3L1778.3 298.5L1779.6 296.9L1781.5 296.2L1783.4 295.5L1785.7 295.2L1787.2 293.9L1788.6 292.3L1790.4 291.5L1792.2 290.6L1794.7 290.8L1795.3 287.9L1797.4 287.6L1799.3 286.7L1800.3 284.6L1802.5 284.3L1804.2 283.2L1805.6 281.8L1807.8 281.4L1809.7 280.7L1811.5 279.7L1812.6 277.8L1814.5 277.0L1817.1 277.4L1817.3 274.0L1819.6 273.8L1821.6 273.2L1823.0 271.6L1824.9 270.8L1826.3 269.4L1828.2 268.7L1830.1 267.9L1831.1 265.8L1832.9 264.9L1834.4 263.6L1835.9 262.2L1837.7 261.2L1838.7 259.3L1841.2 259.3L1843.2 258.6L1844.8 257.3L1846.1 255.7L1846.5 253.1L1848.5 252.3L1850.0 251.0" stroke="#ff0000" stroke-width="8.2" fill="none" stroke-linejoin="round" stroke-linecap="butt"/>
<path d="M1850.0 372.0L1848.7 373.5L1847.3 375.0L1846.5 376.9L1846.2 379.3L1843.7 379.8L1841.5 380.6L1840.7 382.5L1840.8 385.2L1838.2 385.7L1838.0 388.1L1834.5 387.7L1834.2 390.1L1833.5 392.2L1831.1 392.7L1830.6 394.9L1828.4 395.7L1827.3 397.4L1826.6 399.4L1824.2 399.9L1823.8 402.3L1821.0 402.3L1820.2 404.4L1819.3 406.4L1818.3 408.2L1815.1 407.8L1813.7 409.2L1813.7 412.1L1813.1 414.4L1810.0 414.1L1808.8 415.7L1807.3 417.0L1805.9 418.5L1803.6 418.9L1802.8 421.0L1802.3 423.4L1798.8 422.6L1798.0 424.6L1797.5 427.1L1795.7 428.0L1794.5 429.7L1792.5 430.5L1790.9 431.7L1789.5 433.1L1788.4 434.9L1787.1 436.4L1784.8 436.9L1783.8 438.8L1781.1 438.9L1781.3 442.0L1779.0 442.6L1778.0 444.4L1777.0 446.2L1774.5 446.5L1772.7 447.6L1772.9 450.6L1771.2 451.7L1769.0 452.5L1768.8 455.1L1766.0 455.1L1765.0 456.9L1764.1 458.8L1761.8 459.4L1760.1 460.5L1759.3 462.5L1758.1 464.1L1753.7 462.4L1754.5 466.1L1754.2 468.8L1752.3 469.7L1750.8 471.0L1749.4 472.3L1746.6 472.1L1745.6 474.1L1744.5 475.8L1742.9 477.0L1740.7 477.5L1740.0 479.8L1738.2 480.7L1736.4 481.7L1735.1 483.4L1733.3 484.3L1731.6 485.4L1730.0 486.6L1727.7 486.9L1726.9 489.3L1724.9 489.8L1723.9 492.0L1721.6 492.2L1718.6 491.1L1717.7 493.4L1716.2 494.9L1714.6 496.1L1712.4 496.2L1710.8 497.4L1709.4 498.9L1708.1 500.8L1706.6 502.2L1704.3 502.2L1702.7 503.3L1700.9 504.4L1699.0 505.0L1697.6 506.8L1694.8 505.5L1693.8 508.1L1691.9 508.7L1689.7 508.7L1688.6 511.0L1685.9 510.2L1684.1 511.0L1682.7 512.8L1681.2 514.2L1679.2 514.7L1677.9 516.6L1675.0 515.4L1673.8 517.2L1672.3 518.8L1670.7 519.9L1668.4 520.0L1666.3 520.5L1665.7 523.3L1663.7 523.9L1662.5 525.8L1659.8 525.3L1659.1 527.9L1655.8 526.5L1655.1 529.1L1653.5 530.3L1651.9 531.6L1648.5 529.9L1648.8 534.2L1646.2 533.7L1644.6 535.0L1643.2 536.4L1641.5 537.6L1639.1 537.2L1637.0 537.5L1636.0 539.9L1633.9 540.0L1631.7 540.0L1630.5 542.4L1628.6 542.9L1627.0 544.4L1624.8 544.3L1622.9 545.0L1621.2 546.0L1619.4 547.0L1617.7 548.3L1615.8 548.8L1613.8 549.3L1611.5 548.9L1609.9 550.4L1608.2 551.4L1605.9 551.0L1604.0 551.9L1602.6 553.5L1600.7 554.2L1598.4 554.1L1596.7 555.1L1595.2 556.7L1593.1 556.8L1591.3 557.8L1589.2 557.9L1588.0 560.1L1585.6 559.7L1583.9 560.9L1582.6 562.8L1580.1 562.2L1578.3 563.2L1577.3 565.6L1574.4 564.1L1573.6 567.2L1571.0 566.3L1569.7 568.3L1567.5 568.4L1565.7 569.3L1564.1 570.6L1561.9 570.4L1560.3 571.8L1558.2 571.9L1555.9 571.7L1554.8 574.3L1553.8 577.0L1550.2 573.5L1549.6 577.4L1547.4 577.3L1545.6 578.0L1544.0 579.7L1542.2 580.3L1540.0 580.4L1538.1 581.1L1536.9 583.5L1534.1 581.6L1532.5 583.0L1530.6 583.7L1528.6 584.2L1527.1 585.9L1525.0 585.9L1522.8 585.8L1520.9 586.4L1519.2 587.6L1517.5 588.8L1515.8 589.9L1513.3 589.1L1511.7 590.4L1510.1 591.8L1508.7 593.8L1506.5 593.6L1504.9 595.1L1502.1 593.5L1500.6 595.0L1499.0 596.4L1497.0 596.8L1494.3 595.5L1492.8 597.2L1491.7 599.8L1489.5 599.7L1488.0 601.2L1486.3 602.3L1483.8 601.7L1481.3 600.8L1479.7 602.2L1478.3 604.1L1476.6 605.1L1474.6 605.4L1472.5 605.6L1471.3 608.2L1469.6 609.2L1466.6 607.2L1465.2 609.1L1463.0 608.9L1461.5 610.6L1459.3 610.5L1458.1 612.7L1455.9 612.7L1453.7 612.6L1452.0 613.7L1450.6 615.6L1448.3 615.3L1446.9 617.2L1445.2 618.5L1442.8 617.8L1440.7 617.9L1439.0 619.0L1437.8 621.3L1435.3 620.5L1433.5 621.4L1432.0 623.0L1430.7 625.2L1427.8 623.4L1426.0 624.3L1424.3 625.4L1423.1 627.8L1421.2 628.4L1418.6 627.4L1416.8 628.3L1415.1 629.4L1413.5 630.7L1411.5 631.1L1410.0 632.6L1408.1 633.2L1406.4 634.5L1404.2 634.5L1402.6 635.8L1400.3 635.7L1398.6 636.7L1397.3 638.6L1393.9 636.1L1393.8 640.5L1391.4 640.2L1389.4 640.6L1387.5 641.2L1386.8 644.6L1383.9 643.1L1382.0 643.8L1380.1 644.4L1379.6 648.1L1376.8 646.8L1375.2 648.0L1373.5 649.1L1371.1 648.7L1369.9 651.0L1367.5 650.4L1365.9 651.7L1364.7 654.0L1362.7 654.5L1360.7 655.0L1358.7 655.4L1356.6 655.6L1355.2 657.2L1353.5 658.5L1351.9 659.9L1350.6 661.8L1347.9 660.6L1345.8 660.8L1344.2 662.2L1342.8 664.0L1340.3 663.2L1338.0 662.8L1336.7 665.1L1335.0 666.3L1333.2 667.1L1330.5 665.7L1329.2 667.9L1327.2 668.2L1325.1 668.4L1323.3 669.3L1322.0 671.5L1319.6 670.8L1317.8 671.6L1316.0 672.6L1314.0 672.9L1312.6 674.9L1310.6 675.2L1308.9 676.3L1306.6 676.1L1305.2 677.9L1303.0 677.9L1301.7 679.8L1299.5 679.9L1297.8 680.9L1295.9 681.5L1294.0 682.2L1292.3 683.3L1290.5 684.1L1289.3 686.3L1286.4 684.9L1285.2 687.0L1283.2 687.6L1281.6 688.8L1279.2 688.4L1278.0 690.6L1275.7 690.5L1273.7 690.9L1271.7 691.4L1270.1 692.6L1268.5 693.8L1267.3 696.0L1264.6 695.1L1262.8 696.0L1261.1 697.1L1259.3 697.9L1257.7 699.3L1256.1 700.5L1253.7 700.2L1251.9 700.8L1250.8 703.3L1248.3 702.7L1246.7 704.0L1244.7 704.3L1243.0 705.6L1240.9 705.8L1239.1 706.6L1237.3 707.5L1236.2 710.0L1233.7 709.1L1232.0 710.5L1230.5 712.1L1228.1 711.5L1226.9 713.8L1224.3 712.8L1222.2 712.9L1221.0 715.2L1218.7 714.9L1217.0 716.0L1215.0 716.6L1213.9 718.9L1211.4 718.3L1209.8 719.5L1207.8 720.0L1206.3 721.5L1204.2 721.8L1202.8 723.4L1200.9 724.2L1198.2 723.8L1197.7 726.7L1194.3 725.1L1194.3 728.8L1192.5 729.7L1191.2 731.4L1189.0 731.6L1187.1 732.3L1185.9 734.3L1183.8 734.7L1182.3 736.0L1181.2 738.1L1178.9 738.1L1176.8 738.5L1175.8 740.7L1172.8 739.6L1172.0 742.3L1170.6 743.8L1167.9 743.0L1166.8 745.3L1165.1 746.2L1163.5 747.6L1161.4 747.9L1159.9 749.4L1158.2 750.5L1156.1 750.8L1154.6 752.2L1152.1 751.5L1151.1 754.1L1148.9 754.2L1147.2 755.4L1145.5 756.6L1142.8 755.1L1141.9 758.6L1139.1 756.7L1138.0 759.5L1135.7 759.1L1133.2 758.2L1132.7 762.2L1130.7 762.4L1128.0 761.4L1126.7 763.2L1125.3 764.7L1123.4 765.5L1122.2 767.3L1120.1 767.8L1117.8 768.2L1117.1 770.6L1115.3 771.5L1113.2 772.1L1110.1 771.1L1110.7 775.5L1108.7 776.0L1107.3 777.6L1105.5 778.6L1103.6 779.3L1101.9 780.4L1100.4 782.0L1098.6 783.0L1096.4 782.9L1094.3 783.2L1092.1 783.3L1090.9 785.4L1089.1 786.1L1087.0 786.5L1085.3 787.6L1084.1 789.3L1082.5 790.5L1080.0 790.6L1079.6 793.2L1078.1 794.6L1077.2 796.6L1074.6 796.7L1073.4 798.5L1070.8 798.5L1070.4 801.1L1068.2 801.6L1066.6 802.7L1064.6 803.3L1064.2 806.3L1061.3 805.5L1060.3 807.5L1058.6 808.6L1056.9 809.8L1055.2 810.8L1053.4 811.8L1052.5 814.1L1049.6 813.2L1048.1 814.6L1046.8 816.3L1044.8 816.8L1042.1 816.4L1041.3 818.8L1040.0 820.4L1037.4 820.2L1036.9 823.0L1035.0 823.7L1033.5 825.2L1031.7 826.1L1029.7 826.7L1028.1 827.9L1027.1 829.9L1025.2 830.7L1023.4 831.7L1022.0 833.2L1020.2 834.1L1018.8 835.6L1017.2 836.8L1015.2 837.4L1014.0 839.2L1011.7 839.4L1010.3 841.0L1009.0 842.6L1007.3 843.6L1005.6 844.7L1003.9 845.7L1002.1 846.7L1000.7 848.1L999.4 849.8L996.8 849.6L995.4 851.2L994.3 852.9L992.3 853.6L991.0 855.3L989.8 856.9L988.1 858.0L985.2 857.7L984.5 860.0L983.0 861.3L982.2 863.5L980.2 864.2L977.9 864.7L977.4 867.1L975.6 868.1L974.0 869.4L972.9 871.1L970.9 871.9L970.2 874.1L968.5 875.3L967.6 877.2L962.5 874.3L964.1 879.2L962.6 880.6L960.4 881.0L959.7 883.3L957.8 884.1L956.5 885.8L954.5 886.4L952.5 887.0L950.9 888.3L949.5 889.8L948.1 891.2L946.3 892.2L944.6 893.2L943.1 894.6L940.9 894.9L939.4 896.3L938.1 897.9L937.1 899.9L934.7 900.1L934.0 902.4L931.7 902.8L930.3 904.2L929.0 905.8L927.6 907.2L926.0 908.4L923.1 908.1L922.7 910.8L921.2 912.0L919.1 912.6L917.8 914.3L916.0 915.2L915.7 917.9L914.1 919.1L910.3 917.9L910.6 921.2L909.2 922.7L907.5 923.8L905.6 924.7L905.3 927.3L903.1 927.9L901.8 929.4L900.0 930.4L898.8 932.1L897.8 933.9L896.5 935.5L896.0 937.7L892.7 937.3L892.6 940.0L890.6 940.9L888.1 941.2L887.8 943.7L885.8 944.6L884.9 946.5L883.0 947.4L881.9 949.2L880.8 950.9L878.4 951.3L877.9 953.6L879.2 957.8L875.1 956.5L873.2 957.5L872.7 959.8L870.2 960.2L868.8 961.6L866.7 962.3L867.9 966.4L864.6 965.9L864.4 968.6L862.3 969.3L860.6 970.4L859.0 971.6L857.8 973.2L856.3 974.6L855.2 976.3L853.6 977.5L851.7 978.5L850.1 979.7L848.6 981.0L846.9 982.1L845.3 983.3L845.3 986.4L843.2 986.9L841.5 988.0L840.2 989.6L837.8 989.8L836.3 991.2L835.1 992.9L833.4 993.9L831.3 994.4L830.4 996.6L828.7 997.7L826.6 998.2L825.2 999.7L823.2 1000.5L822.2 1002.4L820.5 1003.4L819.6 1005.5L818.3 1007.0L816.3 1007.8L816.2 1010.7L813.1 1010.3L811.4 1011.4L810.4 1013.2L809.1 1014.8L806.9 1015.5L806.1 1017.5L804.2 1018.4L802.1 1019.2L801.6 1021.4L800.1 1022.8L799.0 1024.5L797.8 1026.2L796.5 1027.6L795.3 1029.3L793.4 1030.3L793.6 1033.1L791.5 1033.9L789.6 1035.0L789.1 1037.2L788.4 1039.3L786.3 1040.0L784.2 1040.9L782.6 1042.0L780.9 1043.1L780.0 1045.1L779.2 1047.1L777.2 1048.0L775.6 1049.2L771.8 1048.2L774.3 1053.5L771.5 1053.6L771.3 1056.2L769.7 1057.4L767.3 1057.9L765.9 1059.3L764.3 1060.6L763.2 1062.3L762.5 1064.4L760.6 1065.3L758.8 1066.4L758.2 1068.6L756.8 1070.0L756.1 1072.1L753.4 1072.4L753.0 1074.7L751.8 1076.3L750.3 1077.6L749.1 1079.3L747.4 1080.4L745.2 1081.0L744.0 1082.7L742.3 1083.8L740.8 1085.2L740.7 1087.9L738.5 1088.5L738.9 1091.7L734.7 1090.4L735.2 1093.8L733.8 1095.2L731.4 1095.6L730.4 1097.4L729.3 1099.2L727.2 1099.9L726.4 1101.9L725.8 1104.1L723.2 1104.3L721.7 1105.7L720.0 1106.8L718.4 1108.1L717.4 1109.9L716.2 1111.5L715.0 1113.2L714.1 1115.1L712.1 1115.9L709.9 1116.5L708.6 1118.1L706.5 1118.8L706.3 1121.4L705.7 1123.7L702.9 1123.8L701.4 1125.1L701.2 1127.7L700.0 1129.3L697.6 1129.8L695.9 1130.9L695.5 1133.3L693.6 1134.3L692.4 1135.9L691.2 1137.5L689.8 1139.0L687.5 1139.5L686.3 1141.1L685.0 1142.6L684.5 1145.1L680.8 1143.9L680.6 1146.8L678.7 1147.7L677.7 1149.6L675.5 1150.0L674.9 1152.4L672.6 1152.9L671.3 1154.4L669.2 1155.1L668.8 1157.6L667.0 1158.7L665.4 1159.8L662.7 1159.8L663.0 1163.1L660.6 1163.5L659.6 1165.4L657.6 1166.2L656.0 1167.3L654.7 1168.9L653.2 1170.2L651.7 1171.5L650.1 1172.8L649.0 1174.5L648.3 1176.7L646.1 1177.3L644.8 1178.9L643.1 1179.9L641.1 1180.7L639.8 1182.2L638.2 1183.5L636.4 1184.5L636.6 1187.8L633.7 1187.5L632.4 1189.0L630.9 1190.3L629.9 1192.3L627.5 1192.4L625.6 1193.3L624.1 1194.6L623.0 1196.5L621.1 1197.3L619.4 1198.4L617.4 1199.1L616.1 1200.7L615.1 1202.6L613.5 1203.9L611.9 1205.1L610.3 1206.3L609.1 1208.0L606.9 1208.5L606.1 1210.6L604.5 1211.9L602.4 1212.5L601.3 1214.3L599.6 1215.3L599.0 1217.7L596.0 1217.3L594.9 1219.1L593.5 1220.5L591.7 1221.5L590.3 1223.0L589.3 1224.8L587.4 1225.7L586.3 1227.5L584.1 1228.0L582.1 1228.9L581.9 1231.6L580.0 1232.5L579.0 1234.4L576.5 1234.5L575.6 1236.6L574.3 1238.2L571.6 1237.9L570.2 1239.3L569.3 1241.5L566.7 1241.3L565.5 1243.1L562.7 1242.6L561.5 1244.4L560.8 1246.9L559.1 1247.9L557.8 1249.5L555.8 1250.2L554.3 1251.5L552.5 1252.4L551.3 1254.1L548.3 1253.9L548.8 1257.4L546.2 1257.5L544.9 1259.0L544.1 1261.1L542.6 1262.5L541.1 1263.9L539.6 1265.1L538.9 1267.4L536.0 1267.1L535.1 1269.3L533.0 1269.9L532.4 1272.8L529.5 1272.2L527.3 1272.7L527.3 1276.1L523.9 1275.0L522.9 1276.9L522.1 1278.9L521.3 1280.7L518.5 1280.9L518.3 1283.1L517.5 1285.0" stroke="#ff0000" stroke-width="8.2" fill="none" stroke-linejoin="round" stroke-linecap="butt"/>
<path d="M1850 248L1850 376" stroke="#ff0000" stroke-width="5.5" fill="none" stroke-linejoin="round" stroke-linecap="butt"/>
<rect x="560.0" y="195.5" width="84.5" height="340.5" fill="url(#hr)"/>
<rect x="560.0" y="195.5" width="2.8" height="340.5" fill="#ff0000"/>
<rect x="560.0" y="194.5" width="84.5" height="2.6" fill="#ffc4c4"/>
<rect x="641.7" y="195.5" width="2.8" height="340.5" fill="#ff9c9c"/>
<rect x="721.0" y="284.5" width="84.3" height="251.5" fill="url(#hg)"/>
<path d="M722.4 536V285.9H803.9V536" fill="none" stroke="#00ff00" stroke-width="2.8"/>
<rect x="882.3" y="467.4" width="84.0" height="68.6" fill="url(#hb)"/>
<path d="M883.7 536V468.8H964.9V536" fill="none" stroke="#0000ff" stroke-width="2.8"/>
<rect x="1043.3" y="224.5" width="84.7" height="311.5" fill="url(#hc)"/>
<path d="M1044.7 536V225.9H1126.6V536" fill="none" stroke="#00ffff" stroke-width="2.8"/>
<rect x="1045" y="221.5" width="80" height="2" fill="#b8ffff"/>
<path d="M602.0 184.0L602.0 209.0M595.5 184.0L608.5 184.0M595.5 209.0L608.5 209.0" stroke="#000" stroke-width="2" fill="none"/>
<path d="M763.0 277.0L763.0 291.5M756.5 277.0L769.5 277.0M756.5 291.5L769.5 291.5" stroke="#000" stroke-width="2" fill="none"/>
<path d="M924.1 459.6L924.1 476.8M917.6 459.6L930.6 459.6M917.6 476.8L930.6 476.8" stroke="#000" stroke-width="2" fill="none"/>
<rect x="520.2" y="64.8" width="646.6" height="471.3" fill="none" stroke="#000" stroke-width="2.6"/>
<rect x="521" y="533.2" width="12" height="2.5" fill="#000"/>
<rect x="521" y="466.2" width="7" height="2.5" fill="#000"/>
<rect x="521" y="399.2" width="12" height="2.5" fill="#000"/>
<rect x="521" y="332.2" width="7" height="2.5" fill="#000"/>
<rect x="521" y="265.2" width="12" height="2.5" fill="#000"/>
<rect x="521" y="198.1" width="7" height="2.5" fill="#000"/>
<rect x="521" y="131.1" width="12" height="2.5" fill="#000"/>
<text transform="translate(496.31,543.56) scale(1.0687,1)" font-size="28.66">0</text>
<text transform="translate(480.99,409.32) scale(1.0687,1)" font-size="28.66">80</text>
<text transform="translate(465.67,274.27) scale(1.0687,1)" font-size="28.66">160</text>
<text transform="translate(465.67,139.42) scale(1.0687,1)" font-size="28.66">240</text>
<text transform="translate(447.50,542.68) rotate(-90.00) scale(0.9765,1)" font-size="39.95" font-weight="bold">Stress at 50% strain (kPa)</text>
<path d="M598.5 132.5H842" stroke="#000" stroke-width="2.6"/><path d="M842 132.5H1084" stroke="#222" stroke-width="2.6"/>
<path d="M759 184.9H920" stroke="#999" stroke-width="2.6"/><path d="M920 184.9H1081" stroke="#555" stroke-width="2.6"/>
<path d="M759 230.3H923" stroke="#6a6a6a" stroke-width="2.6"/>
<text transform="translate(823.73,128.32) scale(0.9250,1)" font-size="29.73">*</text>
<text transform="translate(905.12,180.52) scale(0.9250,1)" font-size="29.73">*</text>
<text transform="translate(831.12,227.42) scale(0.9250,1)" font-size="29.73">*</text>
<text transform="translate(586.59,379.00) scale(0.9312,1)" font-size="52.42" font-weight="bold">1</text>
<text transform="translate(749.38,421.40) scale(1.0186,1)" font-size="50.35" font-weight="bold">2</text>
<text transform="translate(913.40,522.40) scale(0.9746,1)" font-size="50.35" font-weight="bold">3</text>
<text transform="translate(1076.96,392.40) scale(0.9183,1)" font-size="52.27" font-weight="bold">4</text>
<text transform="translate(1173.06,122.80) scale(1.0074,1)" font-size="40.15" font-weight="bold">1: Reinforced hydrogel graft</text>
<text transform="translate(1173.04,193.50) scale(1.0147,1)" font-size="39.95" font-weight="bold">2: Braided tube</text>
<text transform="translate(1172.81,263.91) scale(1.0309,1)" font-size="39.36" font-weight="bold">3: Hydrogel tube</text>
<text transform="translate(1173.76,335.50) scale(1.0006,1)" font-size="40.15" font-weight="bold">4: Swine carotid artery</text>
<rect x="343.8" y="48.8" width="5.8" height="1239" fill="#000"/>
<rect x="343.8" y="1282" width="1661" height="5.5" fill="#000"/>
<rect x="343.8" y="48.8" width="1661" height="3.6" fill="#000"/>
<rect x="2000.8" y="48.8" width="4" height="1238.7" fill="#000"/>
<rect x="349" y="1282.3" width="25.0" height="5.4" fill="#000"/>
<rect x="349" y="1158.9" width="12.0" height="5.4" fill="#000"/>
<rect x="349" y="1035.5" width="25.0" height="5.4" fill="#000"/>
<rect x="349" y="912.1" width="12.0" height="5.4" fill="#000"/>
<rect x="349" y="788.7" width="25.0" height="5.4" fill="#000"/>
<rect x="349" y="665.3" width="12.0" height="5.4" fill="#000"/>
<rect x="349" y="541.9" width="25.0" height="5.4" fill="#000"/>
<rect x="349" y="418.5" width="12.0" height="5.4" fill="#000"/>
<rect x="349" y="295.1" width="25.0" height="5.4" fill="#000"/>
<rect x="349" y="171.7" width="12.0" height="5.4" fill="#000"/>
<rect x="349" y="48.3" width="25.0" height="5.4" fill="#000"/>
<rect x="494.9" y="1268.5" width="5" height="15" fill="#000"/>
<rect x="645.2" y="1257.5" width="5" height="26" fill="#000"/>
<rect x="795.5" y="1268.5" width="5" height="15" fill="#000"/>
<rect x="945.9" y="1257.5" width="5" height="26" fill="#000"/>
<rect x="1096.2" y="1268.5" width="5" height="15" fill="#000"/>
<rect x="1246.6" y="1257.5" width="5" height="26" fill="#000"/>
<rect x="1397.0" y="1268.5" width="5" height="15" fill="#000"/>
<rect x="1547.3" y="1257.5" width="5" height="26" fill="#000"/>
<rect x="1697.7" y="1268.5" width="5" height="15" fill="#000"/>
<rect x="1848.0" y="1257.5" width="5" height="26" fill="#000"/>
<text transform="translate(278.58,1308.20) scale(1.0204,1)" font-size="80.20" font-weight="bold">0</text>
<text transform="translate(237.67,1061.40) scale(1.0204,1)" font-size="80.20" font-weight="bold">50</text>
<text transform="translate(196.75,814.60) scale(1.0204,1)" font-size="80.20" font-weight="bold">100</text>
<text transform="translate(196.75,567.80) scale(1.0204,1)" font-size="80.20" font-weight="bold">150</text>
<text transform="translate(196.75,321.00) scale(1.0204,1)" font-size="80.20" font-weight="bold">200</text>
<text transform="translate(196.75,74.20) scale(1.0204,1)" font-size="80.20" font-weight="bold">250</text>
<text transform="translate(326.04,1373.20) scale(1.0204,1)" font-size="80.20" font-weight="bold">0</text>
<text transform="translate(604.51,1373.20) scale(1.0204,1)" font-size="80.20" font-weight="bold">10</text>
<text transform="translate(906.71,1373.20) scale(1.0204,1)" font-size="80.20" font-weight="bold">20</text>
<text transform="translate(1207.68,1373.20) scale(1.0204,1)" font-size="80.20" font-weight="bold">30</text>
<text transform="translate(1509.34,1373.20) scale(1.0204,1)" font-size="80.20" font-weight="bold">40</text>
<text transform="translate(1808.95,1373.20) scale(1.0204,1)" font-size="80.20" font-weight="bold">50</text>
<text transform="translate(97.84,946.81) rotate(-90.00) scale(0.9896,1)" font-size="106.34" font-weight="bold">Stress (kPa)</text>
<text transform="translate(944.26,1528.33) scale(0.9695,1)" font-size="107.23" font-weight="bold">Strain</text>
<text transform="translate(1249.61,1528.44) scale(1.0995,1)" font-size="66.97">(</text>
<text transform="translate(1287.43,1528.96) scale(0.8245,1)" font-size="107.65" font-weight="bold">%</text>
<text transform="translate(1374.08,1527.45) scale(1.1329,1)" font-size="77.38">)</text>
<text transform="translate(452.62,679.70) scale(0.9699,1)" font-size="41.88" font-weight="bold" fill="#ff0000">Tensile process</text>
<text transform="translate(1159.81,887.50) scale(0.9816,1)" font-size="41.88" font-weight="bold" fill="#ff0000">Recovery</text>
<path d="M578 699.5L700 748" stroke="#ff0000" stroke-width="6" stroke-linecap="round"/>
<path d="M727.5 762L693.5 733.5L684 755.5Z" fill="#ff0000"/>
<path d="M1232 854L1172 793" stroke="#ff0000" stroke-width="6"/>
<path d="M1150.3 770.8L1187.5 790.5L1169.5 807Z" fill="#ff0000"/>
<text transform="translate(893.51,779.16) rotate(-19.90) scale(0.9719,1)" font-size="65.18" font-weight="bold" fill="#ff0000">Reinforced hydrogel graft</text>
<text transform="translate(1260.51,1050.95) rotate(-19.70) scale(0.9670,1)" font-size="65.33" font-weight="bold" fill="#00ff00">Braided tube</text>
<text transform="translate(1475.99,1181.41) rotate(-17.00) scale(1.0054,1)" font-size="62.74" font-weight="bold" fill="#0000ff">Hydrogel tube</text>
</svg>
</body></html>
